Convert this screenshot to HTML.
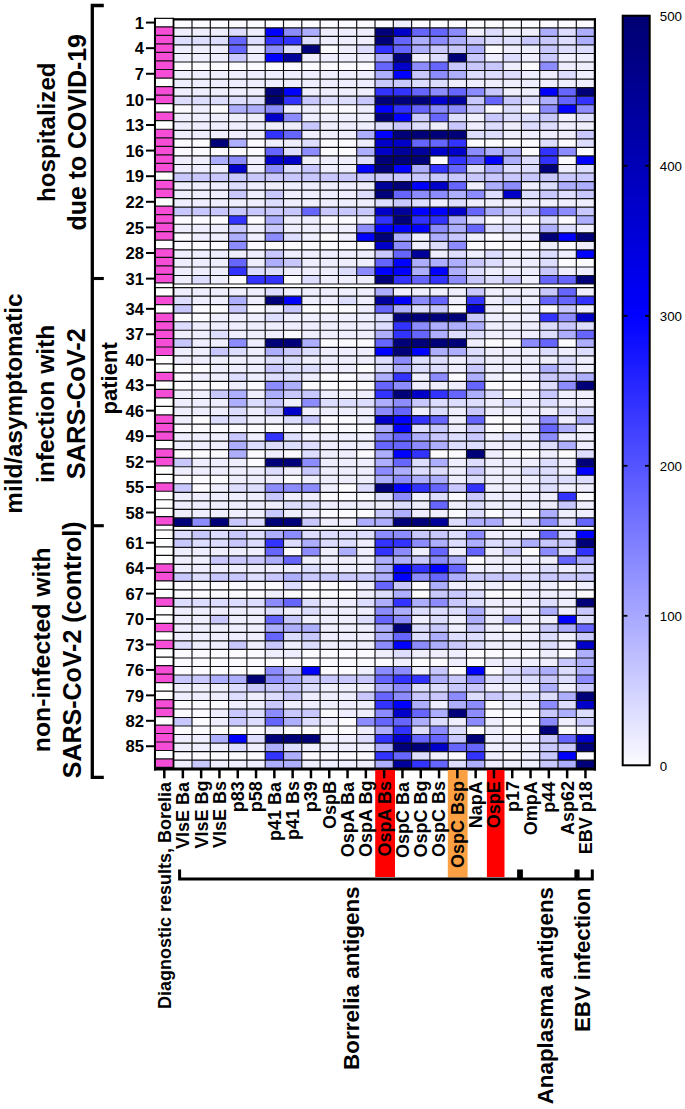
<!DOCTYPE html>
<html><head><meta charset="utf-8"><style>
html,body{margin:0;padding:0;background:#fff;}
body{width:685px;height:1109px;overflow:hidden;}
svg{display:block;font-family:"Liberation Sans",sans-serif;}
</style></head><body>
<svg width="685" height="1109" viewBox="0 0 685 1109">
<rect width="685" height="1109" fill="#fff"/>
<path fill="#fbfbff" d="M173.70 19.30h18.35v8.59h-18.35zM192.00 19.30h18.35v8.59h-18.35zM210.30 19.30h18.35v8.59h-18.35zM228.60 19.30h18.35v8.59h-18.35zM246.90 19.30h18.35v8.59h-18.35zM265.20 19.30h18.35v8.59h-18.35zM283.50 19.30h18.35v8.59h-18.35zM301.80 19.30h18.35v8.59h-18.35zM320.10 19.30h18.35v8.59h-18.35zM338.40 19.30h18.35v8.59h-18.35zM356.70 19.30h18.35v8.59h-18.35zM375.00 19.30h18.35v8.59h-18.35zM411.60 19.30h18.35v8.59h-18.35zM429.90 19.30h18.35v8.59h-18.35zM448.20 19.30h18.35v8.59h-18.35zM466.50 19.30h18.35v8.59h-18.35zM484.80 19.30h18.35v8.59h-18.35zM503.10 19.30h18.35v8.59h-18.35zM521.40 19.30h18.35v8.59h-18.35zM539.70 19.30h18.35v8.59h-18.35zM558.00 19.30h18.35v8.59h-18.35zM576.30 19.30h18.35v8.59h-18.35zM320.10 44.92h18.35v8.59h-18.35zM484.80 44.92h18.35v8.59h-18.35zM173.70 62.00h18.35v8.59h-18.35zM192.00 62.00h18.35v8.59h-18.35zM210.30 62.00h18.35v8.59h-18.35zM228.60 62.00h18.35v8.59h-18.35zM246.90 62.00h18.35v8.59h-18.35zM265.20 62.00h18.35v8.59h-18.35zM283.50 62.00h18.35v8.59h-18.35zM301.80 62.00h18.35v8.59h-18.35zM320.10 62.00h18.35v8.59h-18.35zM338.40 62.00h18.35v8.59h-18.35zM356.70 62.00h18.35v8.59h-18.35zM521.40 62.00h18.35v8.59h-18.35zM173.70 104.70h18.35v8.59h-18.35zM210.30 104.70h18.35v8.59h-18.35zM320.10 104.70h18.35v8.59h-18.35zM338.40 104.70h18.35v8.59h-18.35zM484.80 104.70h18.35v8.59h-18.35zM521.40 104.70h18.35v8.59h-18.35zM173.70 138.86h18.35v8.59h-18.35zM192.00 138.86h18.35v8.59h-18.35zM246.90 138.86h18.35v8.59h-18.35zM320.10 138.86h18.35v8.59h-18.35zM338.40 138.86h18.35v8.59h-18.35zM466.50 138.86h18.35v8.59h-18.35zM484.80 138.86h18.35v8.59h-18.35zM503.10 138.86h18.35v8.59h-18.35zM521.40 138.86h18.35v8.59h-18.35zM558.00 138.86h18.35v8.59h-18.35zM173.70 147.40h18.35v8.59h-18.35zM192.00 147.40h18.35v8.59h-18.35zM210.30 147.40h18.35v8.59h-18.35zM228.60 147.40h18.35v8.59h-18.35zM246.90 147.40h18.35v8.59h-18.35zM320.10 147.40h18.35v8.59h-18.35zM338.40 147.40h18.35v8.59h-18.35zM521.40 147.40h18.35v8.59h-18.35zM576.30 147.40h18.35v8.59h-18.35zM429.90 155.94h18.35v8.59h-18.35zM558.00 155.94h18.35v8.59h-18.35zM173.70 215.72h18.35v8.59h-18.35zM192.00 215.72h18.35v8.59h-18.35zM210.30 215.72h18.35v8.59h-18.35zM246.90 215.72h18.35v8.59h-18.35zM320.10 215.72h18.35v8.59h-18.35zM338.40 215.72h18.35v8.59h-18.35zM484.80 215.72h18.35v8.59h-18.35zM521.40 215.72h18.35v8.59h-18.35zM558.00 215.72h18.35v8.59h-18.35zM173.70 232.80h18.35v8.59h-18.35zM320.10 232.80h18.35v8.59h-18.35zM484.80 232.80h18.35v8.59h-18.35zM173.70 241.34h18.35v8.59h-18.35zM192.00 241.34h18.35v8.59h-18.35zM210.30 241.34h18.35v8.59h-18.35zM246.90 241.34h18.35v8.59h-18.35zM265.20 241.34h18.35v8.59h-18.35zM283.50 241.34h18.35v8.59h-18.35zM301.80 241.34h18.35v8.59h-18.35zM320.10 241.34h18.35v8.59h-18.35zM338.40 241.34h18.35v8.59h-18.35zM356.70 241.34h18.35v8.59h-18.35zM466.50 241.34h18.35v8.59h-18.35zM484.80 241.34h18.35v8.59h-18.35zM503.10 241.34h18.35v8.59h-18.35zM521.40 241.34h18.35v8.59h-18.35zM558.00 241.34h18.35v8.59h-18.35zM558.00 258.42h18.35v8.59h-18.35zM576.30 258.42h18.35v8.59h-18.35zM228.60 275.50h18.35v8.59h-18.35zM283.50 275.50h18.35v8.59h-18.35zM192.00 304.66h18.35v8.58h-18.35zM210.30 304.66h18.35v8.58h-18.35zM246.90 304.66h18.35v8.58h-18.35zM301.80 304.66h18.35v8.58h-18.35zM320.10 304.66h18.35v8.58h-18.35zM338.40 304.66h18.35v8.58h-18.35zM448.20 304.66h18.35v8.58h-18.35zM503.10 304.66h18.35v8.58h-18.35zM539.70 304.66h18.35v8.58h-18.35zM173.70 313.19h18.35v8.58h-18.35zM192.00 313.19h18.35v8.58h-18.35zM283.50 330.25h18.35v8.58h-18.35zM320.10 338.78h18.35v8.58h-18.35zM338.40 338.78h18.35v8.58h-18.35zM356.70 338.78h18.35v8.58h-18.35zM484.80 338.78h18.35v8.58h-18.35zM503.10 338.78h18.35v8.58h-18.35zM558.00 338.78h18.35v8.58h-18.35zM173.70 364.37h18.35v8.58h-18.35zM192.00 364.37h18.35v8.58h-18.35zM356.70 364.37h18.35v8.58h-18.35zM173.70 372.90h18.35v8.58h-18.35zM320.10 372.90h18.35v8.58h-18.35zM338.40 372.90h18.35v8.58h-18.35zM448.20 372.90h18.35v8.58h-18.35zM503.10 372.90h18.35v8.58h-18.35zM173.70 381.43h18.35v8.58h-18.35zM192.00 381.43h18.35v8.58h-18.35zM210.30 381.43h18.35v8.58h-18.35zM246.90 381.43h18.35v8.58h-18.35zM301.80 381.43h18.35v8.58h-18.35zM320.10 381.43h18.35v8.58h-18.35zM338.40 381.43h18.35v8.58h-18.35zM356.70 381.43h18.35v8.58h-18.35zM484.80 381.43h18.35v8.58h-18.35zM503.10 381.43h18.35v8.58h-18.35zM521.40 381.43h18.35v8.58h-18.35zM503.10 389.96h18.35v8.58h-18.35zM192.00 415.55h18.35v8.58h-18.35zM320.10 415.55h18.35v8.58h-18.35zM338.40 415.55h18.35v8.58h-18.35zM484.80 415.55h18.35v8.58h-18.35zM503.10 415.55h18.35v8.58h-18.35zM173.70 424.08h18.35v8.58h-18.35zM192.00 424.08h18.35v8.58h-18.35zM210.30 424.08h18.35v8.58h-18.35zM228.60 424.08h18.35v8.58h-18.35zM246.90 424.08h18.35v8.58h-18.35zM265.20 424.08h18.35v8.58h-18.35zM283.50 424.08h18.35v8.58h-18.35zM301.80 424.08h18.35v8.58h-18.35zM320.10 424.08h18.35v8.58h-18.35zM338.40 424.08h18.35v8.58h-18.35zM356.70 424.08h18.35v8.58h-18.35zM484.80 424.08h18.35v8.58h-18.35zM503.10 424.08h18.35v8.58h-18.35zM173.70 449.67h18.35v8.58h-18.35zM192.00 449.67h18.35v8.58h-18.35zM210.30 449.67h18.35v8.58h-18.35zM246.90 449.67h18.35v8.58h-18.35zM283.50 449.67h18.35v8.58h-18.35zM356.70 449.67h18.35v8.58h-18.35zM429.90 449.67h18.35v8.58h-18.35zM448.20 449.67h18.35v8.58h-18.35zM503.10 449.67h18.35v8.58h-18.35zM521.40 449.67h18.35v8.58h-18.35zM558.00 449.67h18.35v8.58h-18.35zM246.90 458.20h18.35v8.58h-18.35zM173.70 475.26h18.35v8.58h-18.35zM192.00 475.26h18.35v8.58h-18.35zM210.30 475.26h18.35v8.58h-18.35zM283.50 475.26h18.35v8.58h-18.35zM192.00 483.79h18.35v8.58h-18.35zM338.40 483.79h18.35v8.58h-18.35zM320.10 492.32h18.35v8.58h-18.35zM338.40 492.32h18.35v8.58h-18.35zM356.70 492.32h18.35v8.58h-18.35zM448.20 492.32h18.35v8.58h-18.35zM576.30 492.32h18.35v8.58h-18.35zM320.10 509.38h18.35v8.58h-18.35zM338.40 509.38h18.35v8.58h-18.35zM356.70 509.38h18.35v8.58h-18.35zM448.20 509.38h18.35v8.58h-18.35zM484.80 509.38h18.35v8.58h-18.35zM521.40 509.38h18.35v8.58h-18.35zM283.50 547.32h18.35v8.56h-18.35zM521.40 547.32h18.35v8.56h-18.35zM466.50 555.83h18.35v8.56h-18.35zM173.70 581.36h18.35v8.56h-18.35zM192.00 581.36h18.35v8.56h-18.35zM210.30 581.36h18.35v8.56h-18.35zM228.60 581.36h18.35v8.56h-18.35zM246.90 581.36h18.35v8.56h-18.35zM265.20 581.36h18.35v8.56h-18.35zM301.80 581.36h18.35v8.56h-18.35zM320.10 581.36h18.35v8.56h-18.35zM338.40 581.36h18.35v8.56h-18.35zM411.60 581.36h18.35v8.56h-18.35zM503.10 581.36h18.35v8.56h-18.35zM558.00 581.36h18.35v8.56h-18.35zM173.70 589.87h18.35v8.56h-18.35zM192.00 589.87h18.35v8.56h-18.35zM210.30 589.87h18.35v8.56h-18.35zM228.60 589.87h18.35v8.56h-18.35zM246.90 589.87h18.35v8.56h-18.35zM283.50 589.87h18.35v8.56h-18.35zM301.80 589.87h18.35v8.56h-18.35zM320.10 589.87h18.35v8.56h-18.35zM338.40 589.87h18.35v8.56h-18.35zM411.60 589.87h18.35v8.56h-18.35zM484.80 589.87h18.35v8.56h-18.35zM503.10 589.87h18.35v8.56h-18.35zM576.30 589.87h18.35v8.56h-18.35zM503.10 623.91h18.35v8.56h-18.35zM173.70 649.44h18.35v8.56h-18.35zM192.00 649.44h18.35v8.56h-18.35zM210.30 649.44h18.35v8.56h-18.35zM228.60 649.44h18.35v8.56h-18.35zM246.90 649.44h18.35v8.56h-18.35zM301.80 649.44h18.35v8.56h-18.35zM320.10 649.44h18.35v8.56h-18.35zM338.40 649.44h18.35v8.56h-18.35zM356.70 649.44h18.35v8.56h-18.35zM466.50 649.44h18.35v8.56h-18.35zM484.80 649.44h18.35v8.56h-18.35zM503.10 649.44h18.35v8.56h-18.35zM521.40 649.44h18.35v8.56h-18.35zM558.00 649.44h18.35v8.56h-18.35zM173.70 657.95h18.35v8.56h-18.35zM192.00 657.95h18.35v8.56h-18.35zM210.30 657.95h18.35v8.56h-18.35zM228.60 657.95h18.35v8.56h-18.35zM246.90 657.95h18.35v8.56h-18.35zM265.20 657.95h18.35v8.56h-18.35zM283.50 657.95h18.35v8.56h-18.35zM301.80 657.95h18.35v8.56h-18.35zM320.10 657.95h18.35v8.56h-18.35zM338.40 657.95h18.35v8.56h-18.35zM356.70 657.95h18.35v8.56h-18.35zM375.00 657.95h18.35v8.56h-18.35zM411.60 657.95h18.35v8.56h-18.35zM429.90 657.95h18.35v8.56h-18.35zM466.50 657.95h18.35v8.56h-18.35zM173.70 666.46h18.35v8.56h-18.35zM192.00 666.46h18.35v8.56h-18.35zM210.30 666.46h18.35v8.56h-18.35zM228.60 666.46h18.35v8.56h-18.35zM246.90 666.46h18.35v8.56h-18.35zM320.10 666.46h18.35v8.56h-18.35zM338.40 666.46h18.35v8.56h-18.35zM448.20 666.46h18.35v8.56h-18.35zM484.80 666.46h18.35v8.56h-18.35zM173.70 700.50h18.35v8.56h-18.35zM192.00 700.50h18.35v8.56h-18.35zM210.30 700.50h18.35v8.56h-18.35zM484.80 700.50h18.35v8.56h-18.35zM173.70 709.01h18.35v8.56h-18.35zM192.00 709.01h18.35v8.56h-18.35zM320.10 709.01h18.35v8.56h-18.35zM484.80 709.01h18.35v8.56h-18.35zM503.10 709.01h18.35v8.56h-18.35zM521.40 709.01h18.35v8.56h-18.35zM192.00 717.52h18.35v8.56h-18.35zM338.40 717.52h18.35v8.56h-18.35zM503.10 717.52h18.35v8.56h-18.35zM521.40 717.52h18.35v8.56h-18.35zM173.70 726.03h18.35v8.56h-18.35zM192.00 726.03h18.35v8.56h-18.35zM210.30 726.03h18.35v8.56h-18.35zM228.60 726.03h18.35v8.56h-18.35zM246.90 726.03h18.35v8.56h-18.35zM283.50 726.03h18.35v8.56h-18.35zM301.80 726.03h18.35v8.56h-18.35zM320.10 726.03h18.35v8.56h-18.35zM338.40 726.03h18.35v8.56h-18.35zM466.50 726.03h18.35v8.56h-18.35zM503.10 726.03h18.35v8.56h-18.35zM521.40 726.03h18.35v8.56h-18.35zM558.00 726.03h18.35v8.56h-18.35zM173.70 751.56h18.35v8.56h-18.35zM192.00 751.56h18.35v8.56h-18.35zM210.30 751.56h18.35v8.56h-18.35zM228.60 751.56h18.35v8.56h-18.35zM246.90 751.56h18.35v8.56h-18.35zM301.80 751.56h18.35v8.56h-18.35zM320.10 751.56h18.35v8.56h-18.35zM338.40 751.56h18.35v8.56h-18.35zM356.70 751.56h18.35v8.56h-18.35zM448.20 751.56h18.35v8.56h-18.35zM503.10 751.56h18.35v8.56h-18.35zM576.30 751.56h18.35v8.56h-18.35z"/>
<path fill="#eeeeff" d="M393.30 19.30h18.35v8.59h-18.35zM173.70 27.84h18.35v8.59h-18.35zM192.00 27.84h18.35v8.59h-18.35zM210.30 27.84h18.35v8.59h-18.35zM246.90 27.84h18.35v8.59h-18.35zM320.10 27.84h18.35v8.59h-18.35zM338.40 27.84h18.35v8.59h-18.35zM356.70 27.84h18.35v8.59h-18.35zM466.50 27.84h18.35v8.59h-18.35zM503.10 27.84h18.35v8.59h-18.35zM521.40 27.84h18.35v8.59h-18.35zM320.10 36.38h18.35v8.59h-18.35zM338.40 36.38h18.35v8.59h-18.35zM356.70 36.38h18.35v8.59h-18.35zM173.70 44.92h18.35v8.59h-18.35zM192.00 44.92h18.35v8.59h-18.35zM210.30 44.92h18.35v8.59h-18.35zM246.90 44.92h18.35v8.59h-18.35zM338.40 44.92h18.35v8.59h-18.35zM503.10 44.92h18.35v8.59h-18.35zM521.40 44.92h18.35v8.59h-18.35zM173.70 53.46h18.35v8.59h-18.35zM192.00 53.46h18.35v8.59h-18.35zM210.30 53.46h18.35v8.59h-18.35zM246.90 53.46h18.35v8.59h-18.35zM301.80 53.46h18.35v8.59h-18.35zM320.10 53.46h18.35v8.59h-18.35zM338.40 53.46h18.35v8.59h-18.35zM356.70 53.46h18.35v8.59h-18.35zM411.60 53.46h18.35v8.59h-18.35zM484.80 53.46h18.35v8.59h-18.35zM521.40 53.46h18.35v8.59h-18.35zM558.00 53.46h18.35v8.59h-18.35zM576.30 53.46h18.35v8.59h-18.35zM503.10 62.00h18.35v8.59h-18.35zM558.00 62.00h18.35v8.59h-18.35zM576.30 62.00h18.35v8.59h-18.35zM173.70 70.54h18.35v8.59h-18.35zM192.00 70.54h18.35v8.59h-18.35zM210.30 70.54h18.35v8.59h-18.35zM228.60 70.54h18.35v8.59h-18.35zM246.90 70.54h18.35v8.59h-18.35zM265.20 70.54h18.35v8.59h-18.35zM283.50 70.54h18.35v8.59h-18.35zM301.80 70.54h18.35v8.59h-18.35zM320.10 70.54h18.35v8.59h-18.35zM338.40 70.54h18.35v8.59h-18.35zM356.70 70.54h18.35v8.59h-18.35zM521.40 70.54h18.35v8.59h-18.35zM539.70 70.54h18.35v8.59h-18.35zM576.30 70.54h18.35v8.59h-18.35zM173.70 79.08h18.35v8.59h-18.35zM192.00 79.08h18.35v8.59h-18.35zM210.30 79.08h18.35v8.59h-18.35zM228.60 79.08h18.35v8.59h-18.35zM246.90 79.08h18.35v8.59h-18.35zM265.20 79.08h18.35v8.59h-18.35zM283.50 79.08h18.35v8.59h-18.35zM301.80 79.08h18.35v8.59h-18.35zM320.10 79.08h18.35v8.59h-18.35zM338.40 79.08h18.35v8.59h-18.35zM356.70 79.08h18.35v8.59h-18.35zM448.20 79.08h18.35v8.59h-18.35zM466.50 79.08h18.35v8.59h-18.35zM484.80 79.08h18.35v8.59h-18.35zM503.10 79.08h18.35v8.59h-18.35zM521.40 79.08h18.35v8.59h-18.35zM539.70 79.08h18.35v8.59h-18.35zM558.00 79.08h18.35v8.59h-18.35zM576.30 79.08h18.35v8.59h-18.35zM173.70 87.62h18.35v8.59h-18.35zM192.00 87.62h18.35v8.59h-18.35zM210.30 87.62h18.35v8.59h-18.35zM228.60 87.62h18.35v8.59h-18.35zM246.90 87.62h18.35v8.59h-18.35zM301.80 87.62h18.35v8.59h-18.35zM320.10 87.62h18.35v8.59h-18.35zM338.40 87.62h18.35v8.59h-18.35zM356.70 87.62h18.35v8.59h-18.35zM503.10 87.62h18.35v8.59h-18.35zM521.40 87.62h18.35v8.59h-18.35zM192.00 104.70h18.35v8.59h-18.35zM283.50 104.70h18.35v8.59h-18.35zM301.80 104.70h18.35v8.59h-18.35zM356.70 104.70h18.35v8.59h-18.35zM173.70 113.24h18.35v8.59h-18.35zM192.00 113.24h18.35v8.59h-18.35zM210.30 113.24h18.35v8.59h-18.35zM228.60 113.24h18.35v8.59h-18.35zM246.90 113.24h18.35v8.59h-18.35zM301.80 113.24h18.35v8.59h-18.35zM320.10 113.24h18.35v8.59h-18.35zM338.40 113.24h18.35v8.59h-18.35zM356.70 113.24h18.35v8.59h-18.35zM466.50 113.24h18.35v8.59h-18.35zM558.00 113.24h18.35v8.59h-18.35zM173.70 121.78h18.35v8.59h-18.35zM192.00 121.78h18.35v8.59h-18.35zM210.30 121.78h18.35v8.59h-18.35zM228.60 121.78h18.35v8.59h-18.35zM246.90 121.78h18.35v8.59h-18.35zM265.20 121.78h18.35v8.59h-18.35zM283.50 121.78h18.35v8.59h-18.35zM320.10 121.78h18.35v8.59h-18.35zM338.40 121.78h18.35v8.59h-18.35zM356.70 121.78h18.35v8.59h-18.35zM429.90 121.78h18.35v8.59h-18.35zM466.50 121.78h18.35v8.59h-18.35zM503.10 121.78h18.35v8.59h-18.35zM558.00 121.78h18.35v8.59h-18.35zM576.30 121.78h18.35v8.59h-18.35zM173.70 130.32h18.35v8.59h-18.35zM192.00 130.32h18.35v8.59h-18.35zM210.30 130.32h18.35v8.59h-18.35zM228.60 130.32h18.35v8.59h-18.35zM246.90 130.32h18.35v8.59h-18.35zM301.80 130.32h18.35v8.59h-18.35zM320.10 130.32h18.35v8.59h-18.35zM338.40 130.32h18.35v8.59h-18.35zM503.10 130.32h18.35v8.59h-18.35zM521.40 130.32h18.35v8.59h-18.35zM539.70 130.32h18.35v8.59h-18.35zM558.00 130.32h18.35v8.59h-18.35zM265.20 138.86h18.35v8.59h-18.35zM283.50 138.86h18.35v8.59h-18.35zM356.70 138.86h18.35v8.59h-18.35zM173.70 155.94h18.35v8.59h-18.35zM192.00 155.94h18.35v8.59h-18.35zM246.90 155.94h18.35v8.59h-18.35zM301.80 155.94h18.35v8.59h-18.35zM320.10 155.94h18.35v8.59h-18.35zM338.40 155.94h18.35v8.59h-18.35zM173.70 164.48h18.35v8.59h-18.35zM192.00 164.48h18.35v8.59h-18.35zM210.30 164.48h18.35v8.59h-18.35zM246.90 164.48h18.35v8.59h-18.35zM320.10 164.48h18.35v8.59h-18.35zM338.40 164.48h18.35v8.59h-18.35zM558.00 164.48h18.35v8.59h-18.35zM173.70 181.56h18.35v8.59h-18.35zM192.00 181.56h18.35v8.59h-18.35zM210.30 181.56h18.35v8.59h-18.35zM246.90 181.56h18.35v8.59h-18.35zM265.20 181.56h18.35v8.59h-18.35zM283.50 181.56h18.35v8.59h-18.35zM301.80 181.56h18.35v8.59h-18.35zM320.10 181.56h18.35v8.59h-18.35zM338.40 181.56h18.35v8.59h-18.35zM356.70 181.56h18.35v8.59h-18.35zM466.50 181.56h18.35v8.59h-18.35zM521.40 181.56h18.35v8.59h-18.35zM173.70 190.10h18.35v8.59h-18.35zM192.00 190.10h18.35v8.59h-18.35zM210.30 190.10h18.35v8.59h-18.35zM246.90 190.10h18.35v8.59h-18.35zM283.50 190.10h18.35v8.59h-18.35zM301.80 190.10h18.35v8.59h-18.35zM320.10 190.10h18.35v8.59h-18.35zM338.40 190.10h18.35v8.59h-18.35zM173.70 198.64h18.35v8.59h-18.35zM192.00 198.64h18.35v8.59h-18.35zM210.30 198.64h18.35v8.59h-18.35zM228.60 198.64h18.35v8.59h-18.35zM246.90 198.64h18.35v8.59h-18.35zM283.50 198.64h18.35v8.59h-18.35zM301.80 198.64h18.35v8.59h-18.35zM320.10 198.64h18.35v8.59h-18.35zM338.40 198.64h18.35v8.59h-18.35zM356.70 198.64h18.35v8.59h-18.35zM429.90 198.64h18.35v8.59h-18.35zM466.50 198.64h18.35v8.59h-18.35zM484.80 198.64h18.35v8.59h-18.35zM503.10 198.64h18.35v8.59h-18.35zM521.40 198.64h18.35v8.59h-18.35zM539.70 198.64h18.35v8.59h-18.35zM558.00 198.64h18.35v8.59h-18.35zM576.30 198.64h18.35v8.59h-18.35zM283.50 215.72h18.35v8.59h-18.35zM301.80 215.72h18.35v8.59h-18.35zM356.70 215.72h18.35v8.59h-18.35zM503.10 215.72h18.35v8.59h-18.35zM173.70 224.26h18.35v8.59h-18.35zM192.00 224.26h18.35v8.59h-18.35zM210.30 224.26h18.35v8.59h-18.35zM246.90 224.26h18.35v8.59h-18.35zM283.50 224.26h18.35v8.59h-18.35zM301.80 224.26h18.35v8.59h-18.35zM320.10 224.26h18.35v8.59h-18.35zM338.40 224.26h18.35v8.59h-18.35zM521.40 224.26h18.35v8.59h-18.35zM576.30 224.26h18.35v8.59h-18.35zM192.00 232.80h18.35v8.59h-18.35zM210.30 232.80h18.35v8.59h-18.35zM246.90 232.80h18.35v8.59h-18.35zM301.80 232.80h18.35v8.59h-18.35zM338.40 232.80h18.35v8.59h-18.35zM411.60 232.80h18.35v8.59h-18.35zM466.50 232.80h18.35v8.59h-18.35zM503.10 232.80h18.35v8.59h-18.35zM521.40 232.80h18.35v8.59h-18.35zM411.60 241.34h18.35v8.59h-18.35zM539.70 241.34h18.35v8.59h-18.35zM576.30 241.34h18.35v8.59h-18.35zM173.70 249.88h18.35v8.59h-18.35zM192.00 249.88h18.35v8.59h-18.35zM210.30 249.88h18.35v8.59h-18.35zM228.60 249.88h18.35v8.59h-18.35zM246.90 249.88h18.35v8.59h-18.35zM283.50 249.88h18.35v8.59h-18.35zM301.80 249.88h18.35v8.59h-18.35zM320.10 249.88h18.35v8.59h-18.35zM338.40 249.88h18.35v8.59h-18.35zM356.70 249.88h18.35v8.59h-18.35zM429.90 249.88h18.35v8.59h-18.35zM466.50 249.88h18.35v8.59h-18.35zM503.10 249.88h18.35v8.59h-18.35zM521.40 249.88h18.35v8.59h-18.35zM558.00 249.88h18.35v8.59h-18.35zM173.70 258.42h18.35v8.59h-18.35zM192.00 258.42h18.35v8.59h-18.35zM210.30 258.42h18.35v8.59h-18.35zM246.90 258.42h18.35v8.59h-18.35zM301.80 258.42h18.35v8.59h-18.35zM320.10 258.42h18.35v8.59h-18.35zM338.40 258.42h18.35v8.59h-18.35zM356.70 258.42h18.35v8.59h-18.35zM503.10 258.42h18.35v8.59h-18.35zM521.40 258.42h18.35v8.59h-18.35zM173.70 266.96h18.35v8.59h-18.35zM192.00 266.96h18.35v8.59h-18.35zM210.30 266.96h18.35v8.59h-18.35zM283.50 266.96h18.35v8.59h-18.35zM301.80 266.96h18.35v8.59h-18.35zM320.10 266.96h18.35v8.59h-18.35zM484.80 266.96h18.35v8.59h-18.35zM503.10 266.96h18.35v8.59h-18.35zM521.40 266.96h18.35v8.59h-18.35zM558.00 266.96h18.35v8.59h-18.35zM576.30 266.96h18.35v8.59h-18.35zM173.70 275.50h18.35v8.59h-18.35zM210.30 275.50h18.35v8.59h-18.35zM320.10 275.50h18.35v8.59h-18.35zM338.40 275.50h18.35v8.59h-18.35zM356.70 275.50h18.35v8.59h-18.35zM521.40 275.50h18.35v8.59h-18.35zM173.70 287.60h18.35v8.58h-18.35zM192.00 287.60h18.35v8.58h-18.35zM210.30 287.60h18.35v8.58h-18.35zM228.60 287.60h18.35v8.58h-18.35zM246.90 287.60h18.35v8.58h-18.35zM283.50 287.60h18.35v8.58h-18.35zM301.80 287.60h18.35v8.58h-18.35zM320.10 287.60h18.35v8.58h-18.35zM338.40 287.60h18.35v8.58h-18.35zM356.70 287.60h18.35v8.58h-18.35zM393.30 287.60h18.35v8.58h-18.35zM411.60 287.60h18.35v8.58h-18.35zM429.90 287.60h18.35v8.58h-18.35zM448.20 287.60h18.35v8.58h-18.35zM484.80 287.60h18.35v8.58h-18.35zM503.10 287.60h18.35v8.58h-18.35zM521.40 287.60h18.35v8.58h-18.35zM576.30 287.60h18.35v8.58h-18.35zM192.00 296.13h18.35v8.58h-18.35zM210.30 296.13h18.35v8.58h-18.35zM246.90 296.13h18.35v8.58h-18.35zM301.80 296.13h18.35v8.58h-18.35zM320.10 296.13h18.35v8.58h-18.35zM356.70 296.13h18.35v8.58h-18.35zM448.20 296.13h18.35v8.58h-18.35zM484.80 296.13h18.35v8.58h-18.35zM521.40 296.13h18.35v8.58h-18.35zM265.20 304.66h18.35v8.58h-18.35zM356.70 304.66h18.35v8.58h-18.35zM484.80 304.66h18.35v8.58h-18.35zM521.40 304.66h18.35v8.58h-18.35zM576.30 304.66h18.35v8.58h-18.35zM210.30 313.19h18.35v8.58h-18.35zM228.60 313.19h18.35v8.58h-18.35zM246.90 313.19h18.35v8.58h-18.35zM283.50 313.19h18.35v8.58h-18.35zM301.80 313.19h18.35v8.58h-18.35zM320.10 313.19h18.35v8.58h-18.35zM338.40 313.19h18.35v8.58h-18.35zM356.70 313.19h18.35v8.58h-18.35zM484.80 313.19h18.35v8.58h-18.35zM503.10 313.19h18.35v8.58h-18.35zM521.40 313.19h18.35v8.58h-18.35zM192.00 321.72h18.35v8.58h-18.35zM210.30 321.72h18.35v8.58h-18.35zM228.60 321.72h18.35v8.58h-18.35zM246.90 321.72h18.35v8.58h-18.35zM265.20 321.72h18.35v8.58h-18.35zM283.50 321.72h18.35v8.58h-18.35zM301.80 321.72h18.35v8.58h-18.35zM320.10 321.72h18.35v8.58h-18.35zM338.40 321.72h18.35v8.58h-18.35zM356.70 321.72h18.35v8.58h-18.35zM484.80 321.72h18.35v8.58h-18.35zM503.10 321.72h18.35v8.58h-18.35zM521.40 321.72h18.35v8.58h-18.35zM173.70 330.25h18.35v8.58h-18.35zM192.00 330.25h18.35v8.58h-18.35zM228.60 330.25h18.35v8.58h-18.35zM246.90 330.25h18.35v8.58h-18.35zM265.20 330.25h18.35v8.58h-18.35zM301.80 330.25h18.35v8.58h-18.35zM320.10 330.25h18.35v8.58h-18.35zM338.40 330.25h18.35v8.58h-18.35zM356.70 330.25h18.35v8.58h-18.35zM484.80 330.25h18.35v8.58h-18.35zM503.10 330.25h18.35v8.58h-18.35zM521.40 330.25h18.35v8.58h-18.35zM192.00 338.78h18.35v8.58h-18.35zM210.30 338.78h18.35v8.58h-18.35zM246.90 338.78h18.35v8.58h-18.35zM466.50 338.78h18.35v8.58h-18.35zM173.70 347.31h18.35v8.58h-18.35zM192.00 347.31h18.35v8.58h-18.35zM246.90 347.31h18.35v8.58h-18.35zM320.10 347.31h18.35v8.58h-18.35zM338.40 347.31h18.35v8.58h-18.35zM356.70 347.31h18.35v8.58h-18.35zM484.80 347.31h18.35v8.58h-18.35zM503.10 347.31h18.35v8.58h-18.35zM521.40 347.31h18.35v8.58h-18.35zM558.00 347.31h18.35v8.58h-18.35zM173.70 355.84h18.35v8.58h-18.35zM192.00 355.84h18.35v8.58h-18.35zM210.30 355.84h18.35v8.58h-18.35zM228.60 355.84h18.35v8.58h-18.35zM246.90 355.84h18.35v8.58h-18.35zM301.80 355.84h18.35v8.58h-18.35zM320.10 355.84h18.35v8.58h-18.35zM338.40 355.84h18.35v8.58h-18.35zM356.70 355.84h18.35v8.58h-18.35zM448.20 355.84h18.35v8.58h-18.35zM484.80 355.84h18.35v8.58h-18.35zM503.10 355.84h18.35v8.58h-18.35zM521.40 355.84h18.35v8.58h-18.35zM539.70 355.84h18.35v8.58h-18.35zM576.30 355.84h18.35v8.58h-18.35zM210.30 364.37h18.35v8.58h-18.35zM228.60 364.37h18.35v8.58h-18.35zM246.90 364.37h18.35v8.58h-18.35zM320.10 364.37h18.35v8.58h-18.35zM338.40 364.37h18.35v8.58h-18.35zM448.20 364.37h18.35v8.58h-18.35zM484.80 364.37h18.35v8.58h-18.35zM503.10 364.37h18.35v8.58h-18.35zM521.40 364.37h18.35v8.58h-18.35zM576.30 364.37h18.35v8.58h-18.35zM192.00 372.90h18.35v8.58h-18.35zM210.30 372.90h18.35v8.58h-18.35zM246.90 372.90h18.35v8.58h-18.35zM301.80 372.90h18.35v8.58h-18.35zM356.70 372.90h18.35v8.58h-18.35zM411.60 372.90h18.35v8.58h-18.35zM484.80 372.90h18.35v8.58h-18.35zM521.40 372.90h18.35v8.58h-18.35zM228.60 381.43h18.35v8.58h-18.35zM411.60 381.43h18.35v8.58h-18.35zM429.90 381.43h18.35v8.58h-18.35zM448.20 381.43h18.35v8.58h-18.35zM173.70 389.96h18.35v8.58h-18.35zM192.00 389.96h18.35v8.58h-18.35zM246.90 389.96h18.35v8.58h-18.35zM320.10 389.96h18.35v8.58h-18.35zM338.40 389.96h18.35v8.58h-18.35zM356.70 389.96h18.35v8.58h-18.35zM521.40 389.96h18.35v8.58h-18.35zM558.00 389.96h18.35v8.58h-18.35zM576.30 389.96h18.35v8.58h-18.35zM173.70 398.49h18.35v8.58h-18.35zM192.00 398.49h18.35v8.58h-18.35zM210.30 398.49h18.35v8.58h-18.35zM283.50 398.49h18.35v8.58h-18.35zM484.80 398.49h18.35v8.58h-18.35zM521.40 398.49h18.35v8.58h-18.35zM558.00 398.49h18.35v8.58h-18.35zM576.30 398.49h18.35v8.58h-18.35zM173.70 407.02h18.35v8.58h-18.35zM192.00 407.02h18.35v8.58h-18.35zM210.30 407.02h18.35v8.58h-18.35zM246.90 407.02h18.35v8.58h-18.35zM301.80 407.02h18.35v8.58h-18.35zM320.10 407.02h18.35v8.58h-18.35zM338.40 407.02h18.35v8.58h-18.35zM356.70 407.02h18.35v8.58h-18.35zM411.60 407.02h18.35v8.58h-18.35zM448.20 407.02h18.35v8.58h-18.35zM484.80 407.02h18.35v8.58h-18.35zM503.10 407.02h18.35v8.58h-18.35zM521.40 407.02h18.35v8.58h-18.35zM539.70 407.02h18.35v8.58h-18.35zM173.70 415.55h18.35v8.58h-18.35zM246.90 415.55h18.35v8.58h-18.35zM265.20 415.55h18.35v8.58h-18.35zM356.70 415.55h18.35v8.58h-18.35zM448.20 415.55h18.35v8.58h-18.35zM521.40 415.55h18.35v8.58h-18.35zM558.00 415.55h18.35v8.58h-18.35zM448.20 424.08h18.35v8.58h-18.35zM521.40 424.08h18.35v8.58h-18.35zM576.30 424.08h18.35v8.58h-18.35zM173.70 432.61h18.35v8.58h-18.35zM192.00 432.61h18.35v8.58h-18.35zM210.30 432.61h18.35v8.58h-18.35zM246.90 432.61h18.35v8.58h-18.35zM301.80 432.61h18.35v8.58h-18.35zM320.10 432.61h18.35v8.58h-18.35zM338.40 432.61h18.35v8.58h-18.35zM356.70 432.61h18.35v8.58h-18.35zM484.80 432.61h18.35v8.58h-18.35zM521.40 432.61h18.35v8.58h-18.35zM558.00 432.61h18.35v8.58h-18.35zM576.30 432.61h18.35v8.58h-18.35zM173.70 441.14h18.35v8.58h-18.35zM192.00 441.14h18.35v8.58h-18.35zM210.30 441.14h18.35v8.58h-18.35zM320.10 441.14h18.35v8.58h-18.35zM338.40 441.14h18.35v8.58h-18.35zM356.70 441.14h18.35v8.58h-18.35zM484.80 441.14h18.35v8.58h-18.35zM503.10 441.14h18.35v8.58h-18.35zM521.40 441.14h18.35v8.58h-18.35zM576.30 441.14h18.35v8.58h-18.35zM265.20 449.67h18.35v8.58h-18.35zM320.10 449.67h18.35v8.58h-18.35zM338.40 449.67h18.35v8.58h-18.35zM484.80 449.67h18.35v8.58h-18.35zM539.70 449.67h18.35v8.58h-18.35zM192.00 458.20h18.35v8.58h-18.35zM210.30 458.20h18.35v8.58h-18.35zM228.60 458.20h18.35v8.58h-18.35zM320.10 458.20h18.35v8.58h-18.35zM338.40 458.20h18.35v8.58h-18.35zM356.70 458.20h18.35v8.58h-18.35zM448.20 458.20h18.35v8.58h-18.35zM484.80 458.20h18.35v8.58h-18.35zM503.10 458.20h18.35v8.58h-18.35zM521.40 458.20h18.35v8.58h-18.35zM558.00 458.20h18.35v8.58h-18.35zM173.70 466.73h18.35v8.58h-18.35zM192.00 466.73h18.35v8.58h-18.35zM210.30 466.73h18.35v8.58h-18.35zM228.60 466.73h18.35v8.58h-18.35zM246.90 466.73h18.35v8.58h-18.35zM283.50 466.73h18.35v8.58h-18.35zM320.10 466.73h18.35v8.58h-18.35zM338.40 466.73h18.35v8.58h-18.35zM356.70 466.73h18.35v8.58h-18.35zM448.20 466.73h18.35v8.58h-18.35zM484.80 466.73h18.35v8.58h-18.35zM503.10 466.73h18.35v8.58h-18.35zM558.00 466.73h18.35v8.58h-18.35zM228.60 475.26h18.35v8.58h-18.35zM246.90 475.26h18.35v8.58h-18.35zM265.20 475.26h18.35v8.58h-18.35zM301.80 475.26h18.35v8.58h-18.35zM320.10 475.26h18.35v8.58h-18.35zM338.40 475.26h18.35v8.58h-18.35zM356.70 475.26h18.35v8.58h-18.35zM448.20 475.26h18.35v8.58h-18.35zM484.80 475.26h18.35v8.58h-18.35zM503.10 475.26h18.35v8.58h-18.35zM521.40 475.26h18.35v8.58h-18.35zM210.30 483.79h18.35v8.58h-18.35zM320.10 483.79h18.35v8.58h-18.35zM484.80 483.79h18.35v8.58h-18.35zM503.10 483.79h18.35v8.58h-18.35zM521.40 483.79h18.35v8.58h-18.35zM558.00 483.79h18.35v8.58h-18.35zM576.30 483.79h18.35v8.58h-18.35zM173.70 492.32h18.35v8.58h-18.35zM192.00 492.32h18.35v8.58h-18.35zM210.30 492.32h18.35v8.58h-18.35zM228.60 492.32h18.35v8.58h-18.35zM246.90 492.32h18.35v8.58h-18.35zM283.50 492.32h18.35v8.58h-18.35zM301.80 492.32h18.35v8.58h-18.35zM411.60 492.32h18.35v8.58h-18.35zM484.80 492.32h18.35v8.58h-18.35zM503.10 492.32h18.35v8.58h-18.35zM521.40 492.32h18.35v8.58h-18.35zM539.70 492.32h18.35v8.58h-18.35zM173.70 500.85h18.35v8.58h-18.35zM192.00 500.85h18.35v8.58h-18.35zM210.30 500.85h18.35v8.58h-18.35zM228.60 500.85h18.35v8.58h-18.35zM246.90 500.85h18.35v8.58h-18.35zM265.20 500.85h18.35v8.58h-18.35zM320.10 500.85h18.35v8.58h-18.35zM338.40 500.85h18.35v8.58h-18.35zM356.70 500.85h18.35v8.58h-18.35zM375.00 500.85h18.35v8.58h-18.35zM411.60 500.85h18.35v8.58h-18.35zM448.20 500.85h18.35v8.58h-18.35zM484.80 500.85h18.35v8.58h-18.35zM503.10 500.85h18.35v8.58h-18.35zM521.40 500.85h18.35v8.58h-18.35zM539.70 500.85h18.35v8.58h-18.35zM576.30 500.85h18.35v8.58h-18.35zM173.70 509.38h18.35v8.58h-18.35zM192.00 509.38h18.35v8.58h-18.35zM210.30 509.38h18.35v8.58h-18.35zM228.60 509.38h18.35v8.58h-18.35zM246.90 509.38h18.35v8.58h-18.35zM283.50 509.38h18.35v8.58h-18.35zM301.80 509.38h18.35v8.58h-18.35zM411.60 509.38h18.35v8.58h-18.35zM429.90 509.38h18.35v8.58h-18.35zM503.10 509.38h18.35v8.58h-18.35zM558.00 509.38h18.35v8.58h-18.35zM576.30 509.38h18.35v8.58h-18.35zM320.10 517.91h18.35v8.58h-18.35zM338.40 517.91h18.35v8.58h-18.35zM503.10 517.91h18.35v8.58h-18.35zM484.80 530.30h18.35v8.56h-18.35zM503.10 530.30h18.35v8.56h-18.35zM521.40 530.30h18.35v8.56h-18.35zM356.70 538.81h18.35v8.56h-18.35zM173.70 547.32h18.35v8.56h-18.35zM192.00 547.32h18.35v8.56h-18.35zM210.30 547.32h18.35v8.56h-18.35zM228.60 547.32h18.35v8.56h-18.35zM246.90 547.32h18.35v8.56h-18.35zM320.10 547.32h18.35v8.56h-18.35zM356.70 547.32h18.35v8.56h-18.35zM411.60 547.32h18.35v8.56h-18.35zM448.20 547.32h18.35v8.56h-18.35zM484.80 547.32h18.35v8.56h-18.35zM173.70 555.83h18.35v8.56h-18.35zM192.00 555.83h18.35v8.56h-18.35zM301.80 555.83h18.35v8.56h-18.35zM320.10 555.83h18.35v8.56h-18.35zM338.40 555.83h18.35v8.56h-18.35zM356.70 555.83h18.35v8.56h-18.35zM484.80 555.83h18.35v8.56h-18.35zM503.10 555.83h18.35v8.56h-18.35zM521.40 555.83h18.35v8.56h-18.35zM539.70 555.83h18.35v8.56h-18.35zM173.70 564.34h18.35v8.56h-18.35zM192.00 564.34h18.35v8.56h-18.35zM210.30 564.34h18.35v8.56h-18.35zM228.60 564.34h18.35v8.56h-18.35zM246.90 564.34h18.35v8.56h-18.35zM265.20 564.34h18.35v8.56h-18.35zM283.50 564.34h18.35v8.56h-18.35zM320.10 564.34h18.35v8.56h-18.35zM338.40 564.34h18.35v8.56h-18.35zM356.70 564.34h18.35v8.56h-18.35zM466.50 564.34h18.35v8.56h-18.35zM484.80 564.34h18.35v8.56h-18.35zM503.10 564.34h18.35v8.56h-18.35zM521.40 564.34h18.35v8.56h-18.35zM558.00 564.34h18.35v8.56h-18.35zM356.70 581.36h18.35v8.56h-18.35zM448.20 581.36h18.35v8.56h-18.35zM466.50 581.36h18.35v8.56h-18.35zM484.80 581.36h18.35v8.56h-18.35zM521.40 581.36h18.35v8.56h-18.35zM539.70 581.36h18.35v8.56h-18.35zM576.30 581.36h18.35v8.56h-18.35zM265.20 589.87h18.35v8.56h-18.35zM356.70 589.87h18.35v8.56h-18.35zM521.40 589.87h18.35v8.56h-18.35zM539.70 589.87h18.35v8.56h-18.35zM558.00 589.87h18.35v8.56h-18.35zM320.10 598.38h18.35v8.56h-18.35zM338.40 598.38h18.35v8.56h-18.35zM484.80 598.38h18.35v8.56h-18.35zM503.10 598.38h18.35v8.56h-18.35zM521.40 598.38h18.35v8.56h-18.35zM558.00 598.38h18.35v8.56h-18.35zM173.70 606.89h18.35v8.56h-18.35zM192.00 606.89h18.35v8.56h-18.35zM210.30 606.89h18.35v8.56h-18.35zM228.60 606.89h18.35v8.56h-18.35zM246.90 606.89h18.35v8.56h-18.35zM283.50 606.89h18.35v8.56h-18.35zM320.10 606.89h18.35v8.56h-18.35zM338.40 606.89h18.35v8.56h-18.35zM356.70 606.89h18.35v8.56h-18.35zM484.80 606.89h18.35v8.56h-18.35zM503.10 606.89h18.35v8.56h-18.35zM521.40 606.89h18.35v8.56h-18.35zM558.00 606.89h18.35v8.56h-18.35zM173.70 615.40h18.35v8.56h-18.35zM192.00 615.40h18.35v8.56h-18.35zM228.60 615.40h18.35v8.56h-18.35zM246.90 615.40h18.35v8.56h-18.35zM301.80 615.40h18.35v8.56h-18.35zM320.10 615.40h18.35v8.56h-18.35zM338.40 615.40h18.35v8.56h-18.35zM411.60 615.40h18.35v8.56h-18.35zM448.20 615.40h18.35v8.56h-18.35zM484.80 615.40h18.35v8.56h-18.35zM521.40 615.40h18.35v8.56h-18.35zM539.70 615.40h18.35v8.56h-18.35zM173.70 623.91h18.35v8.56h-18.35zM192.00 623.91h18.35v8.56h-18.35zM210.30 623.91h18.35v8.56h-18.35zM228.60 623.91h18.35v8.56h-18.35zM246.90 623.91h18.35v8.56h-18.35zM320.10 623.91h18.35v8.56h-18.35zM338.40 623.91h18.35v8.56h-18.35zM356.70 623.91h18.35v8.56h-18.35zM448.20 623.91h18.35v8.56h-18.35zM484.80 623.91h18.35v8.56h-18.35zM521.40 623.91h18.35v8.56h-18.35zM173.70 632.42h18.35v8.56h-18.35zM192.00 632.42h18.35v8.56h-18.35zM210.30 632.42h18.35v8.56h-18.35zM228.60 632.42h18.35v8.56h-18.35zM246.90 632.42h18.35v8.56h-18.35zM320.10 632.42h18.35v8.56h-18.35zM338.40 632.42h18.35v8.56h-18.35zM356.70 632.42h18.35v8.56h-18.35zM484.80 632.42h18.35v8.56h-18.35zM503.10 632.42h18.35v8.56h-18.35zM521.40 632.42h18.35v8.56h-18.35zM558.00 632.42h18.35v8.56h-18.35zM192.00 640.93h18.35v8.56h-18.35zM210.30 640.93h18.35v8.56h-18.35zM246.90 640.93h18.35v8.56h-18.35zM283.50 640.93h18.35v8.56h-18.35zM320.10 640.93h18.35v8.56h-18.35zM338.40 640.93h18.35v8.56h-18.35zM356.70 640.93h18.35v8.56h-18.35zM484.80 640.93h18.35v8.56h-18.35zM503.10 640.93h18.35v8.56h-18.35zM521.40 640.93h18.35v8.56h-18.35zM558.00 640.93h18.35v8.56h-18.35zM265.20 649.44h18.35v8.56h-18.35zM283.50 649.44h18.35v8.56h-18.35zM375.00 649.44h18.35v8.56h-18.35zM411.60 649.44h18.35v8.56h-18.35zM429.90 649.44h18.35v8.56h-18.35zM448.20 649.44h18.35v8.56h-18.35zM539.70 649.44h18.35v8.56h-18.35zM393.30 657.95h18.35v8.56h-18.35zM448.20 657.95h18.35v8.56h-18.35zM484.80 657.95h18.35v8.56h-18.35zM503.10 657.95h18.35v8.56h-18.35zM521.40 657.95h18.35v8.56h-18.35zM539.70 657.95h18.35v8.56h-18.35zM356.70 666.46h18.35v8.56h-18.35zM411.60 666.46h18.35v8.56h-18.35zM173.70 683.48h18.35v8.56h-18.35zM192.00 683.48h18.35v8.56h-18.35zM210.30 683.48h18.35v8.56h-18.35zM320.10 683.48h18.35v8.56h-18.35zM338.40 683.48h18.35v8.56h-18.35zM356.70 683.48h18.35v8.56h-18.35zM484.80 683.48h18.35v8.56h-18.35zM503.10 683.48h18.35v8.56h-18.35zM521.40 683.48h18.35v8.56h-18.35zM558.00 683.48h18.35v8.56h-18.35zM173.70 691.99h18.35v8.56h-18.35zM192.00 691.99h18.35v8.56h-18.35zM210.30 691.99h18.35v8.56h-18.35zM246.90 691.99h18.35v8.56h-18.35zM301.80 691.99h18.35v8.56h-18.35zM320.10 691.99h18.35v8.56h-18.35zM338.40 691.99h18.35v8.56h-18.35zM228.60 700.50h18.35v8.56h-18.35zM246.90 700.50h18.35v8.56h-18.35zM283.50 700.50h18.35v8.56h-18.35zM301.80 700.50h18.35v8.56h-18.35zM320.10 700.50h18.35v8.56h-18.35zM338.40 700.50h18.35v8.56h-18.35zM356.70 700.50h18.35v8.56h-18.35zM429.90 700.50h18.35v8.56h-18.35zM503.10 700.50h18.35v8.56h-18.35zM521.40 700.50h18.35v8.56h-18.35zM210.30 709.01h18.35v8.56h-18.35zM338.40 709.01h18.35v8.56h-18.35zM356.70 709.01h18.35v8.56h-18.35zM210.30 717.52h18.35v8.56h-18.35zM320.10 717.52h18.35v8.56h-18.35zM448.20 717.52h18.35v8.56h-18.35zM484.80 717.52h18.35v8.56h-18.35zM558.00 717.52h18.35v8.56h-18.35zM265.20 726.03h18.35v8.56h-18.35zM356.70 726.03h18.35v8.56h-18.35zM484.80 726.03h18.35v8.56h-18.35zM576.30 726.03h18.35v8.56h-18.35zM173.70 734.54h18.35v8.56h-18.35zM192.00 734.54h18.35v8.56h-18.35zM320.10 734.54h18.35v8.56h-18.35zM338.40 734.54h18.35v8.56h-18.35zM484.80 734.54h18.35v8.56h-18.35zM503.10 734.54h18.35v8.56h-18.35zM521.40 734.54h18.35v8.56h-18.35zM173.70 743.05h18.35v8.56h-18.35zM192.00 743.05h18.35v8.56h-18.35zM210.30 743.05h18.35v8.56h-18.35zM246.90 743.05h18.35v8.56h-18.35zM301.80 743.05h18.35v8.56h-18.35zM320.10 743.05h18.35v8.56h-18.35zM338.40 743.05h18.35v8.56h-18.35zM356.70 743.05h18.35v8.56h-18.35zM484.80 743.05h18.35v8.56h-18.35zM503.10 743.05h18.35v8.56h-18.35zM521.40 743.05h18.35v8.56h-18.35zM429.90 751.56h18.35v8.56h-18.35zM484.80 751.56h18.35v8.56h-18.35zM521.40 751.56h18.35v8.56h-18.35zM173.70 760.07h18.35v8.56h-18.35zM210.30 760.07h18.35v8.56h-18.35zM228.60 760.07h18.35v8.56h-18.35zM246.90 760.07h18.35v8.56h-18.35zM301.80 760.07h18.35v8.56h-18.35zM320.10 760.07h18.35v8.56h-18.35zM338.40 760.07h18.35v8.56h-18.35zM356.70 760.07h18.35v8.56h-18.35zM484.80 760.07h18.35v8.56h-18.35zM503.10 760.07h18.35v8.56h-18.35zM521.40 760.07h18.35v8.56h-18.35z"/>
<path fill="#ddddff" d="M228.60 27.84h18.35v8.59h-18.35zM484.80 27.84h18.35v8.59h-18.35zM558.00 27.84h18.35v8.59h-18.35zM173.70 36.38h18.35v8.59h-18.35zM192.00 36.38h18.35v8.59h-18.35zM210.30 36.38h18.35v8.59h-18.35zM246.90 36.38h18.35v8.59h-18.35zM301.80 36.38h18.35v8.59h-18.35zM484.80 36.38h18.35v8.59h-18.35zM503.10 36.38h18.35v8.59h-18.35zM558.00 36.38h18.35v8.59h-18.35zM283.50 44.92h18.35v8.59h-18.35zM356.70 44.92h18.35v8.59h-18.35zM558.00 44.92h18.35v8.59h-18.35zM576.30 44.92h18.35v8.59h-18.35zM429.90 53.46h18.35v8.59h-18.35zM503.10 53.46h18.35v8.59h-18.35zM466.50 70.54h18.35v8.59h-18.35zM484.80 70.54h18.35v8.59h-18.35zM503.10 70.54h18.35v8.59h-18.35zM558.00 70.54h18.35v8.59h-18.35zM411.60 79.08h18.35v8.59h-18.35zM429.90 79.08h18.35v8.59h-18.35zM173.70 96.16h18.35v8.59h-18.35zM192.00 96.16h18.35v8.59h-18.35zM210.30 96.16h18.35v8.59h-18.35zM228.60 96.16h18.35v8.59h-18.35zM246.90 96.16h18.35v8.59h-18.35zM320.10 96.16h18.35v8.59h-18.35zM338.40 96.16h18.35v8.59h-18.35zM521.40 96.16h18.35v8.59h-18.35zM503.10 104.70h18.35v8.59h-18.35zM448.20 113.24h18.35v8.59h-18.35zM503.10 113.24h18.35v8.59h-18.35zM521.40 113.24h18.35v8.59h-18.35zM576.30 113.24h18.35v8.59h-18.35zM375.00 121.78h18.35v8.59h-18.35zM411.60 121.78h18.35v8.59h-18.35zM484.80 121.78h18.35v8.59h-18.35zM521.40 121.78h18.35v8.59h-18.35zM539.70 121.78h18.35v8.59h-18.35zM466.50 130.32h18.35v8.59h-18.35zM484.80 130.32h18.35v8.59h-18.35zM301.80 138.86h18.35v8.59h-18.35zM539.70 138.86h18.35v8.59h-18.35zM576.30 138.86h18.35v8.59h-18.35zM283.50 147.40h18.35v8.59h-18.35zM356.70 155.94h18.35v8.59h-18.35zM521.40 155.94h18.35v8.59h-18.35zM283.50 164.48h18.35v8.59h-18.35zM466.50 164.48h18.35v8.59h-18.35zM503.10 164.48h18.35v8.59h-18.35zM521.40 164.48h18.35v8.59h-18.35zM576.30 164.48h18.35v8.59h-18.35zM228.60 181.56h18.35v8.59h-18.35zM539.70 181.56h18.35v8.59h-18.35zM356.70 190.10h18.35v8.59h-18.35zM484.80 190.10h18.35v8.59h-18.35zM521.40 190.10h18.35v8.59h-18.35zM558.00 190.10h18.35v8.59h-18.35zM265.20 198.64h18.35v8.59h-18.35zM375.00 198.64h18.35v8.59h-18.35zM411.60 198.64h18.35v8.59h-18.35zM448.20 198.64h18.35v8.59h-18.35zM466.50 215.72h18.35v8.59h-18.35zM539.70 215.72h18.35v8.59h-18.35zM484.80 224.26h18.35v8.59h-18.35zM503.10 224.26h18.35v8.59h-18.35zM558.00 224.26h18.35v8.59h-18.35zM283.50 232.80h18.35v8.59h-18.35zM429.90 241.34h18.35v8.59h-18.35zM448.20 249.88h18.35v8.59h-18.35zM484.80 249.88h18.35v8.59h-18.35zM539.70 249.88h18.35v8.59h-18.35zM484.80 258.42h18.35v8.59h-18.35zM539.70 258.42h18.35v8.59h-18.35zM246.90 266.96h18.35v8.59h-18.35zM265.20 266.96h18.35v8.59h-18.35zM338.40 266.96h18.35v8.59h-18.35zM466.50 266.96h18.35v8.59h-18.35zM192.00 275.50h18.35v8.59h-18.35zM301.80 275.50h18.35v8.59h-18.35zM484.80 275.50h18.35v8.59h-18.35zM265.20 287.60h18.35v8.58h-18.35zM173.70 296.13h18.35v8.58h-18.35zM338.40 296.13h18.35v8.58h-18.35zM503.10 296.13h18.35v8.58h-18.35zM411.60 304.66h18.35v8.58h-18.35zM265.20 313.19h18.35v8.58h-18.35zM375.00 313.19h18.35v8.58h-18.35zM173.70 321.72h18.35v8.58h-18.35zM375.00 321.72h18.35v8.58h-18.35zM539.70 321.72h18.35v8.58h-18.35zM576.30 321.72h18.35v8.58h-18.35zM210.30 330.25h18.35v8.58h-18.35zM448.20 330.25h18.35v8.58h-18.35zM466.50 330.25h18.35v8.58h-18.35zM539.70 330.25h18.35v8.58h-18.35zM228.60 347.31h18.35v8.58h-18.35zM301.80 347.31h18.35v8.58h-18.35zM466.50 347.31h18.35v8.58h-18.35zM539.70 347.31h18.35v8.58h-18.35zM576.30 347.31h18.35v8.58h-18.35zM265.20 355.84h18.35v8.58h-18.35zM283.50 355.84h18.35v8.58h-18.35zM375.00 355.84h18.35v8.58h-18.35zM411.60 355.84h18.35v8.58h-18.35zM429.90 355.84h18.35v8.58h-18.35zM466.50 355.84h18.35v8.58h-18.35zM558.00 355.84h18.35v8.58h-18.35zM283.50 364.37h18.35v8.58h-18.35zM301.80 364.37h18.35v8.58h-18.35zM375.00 364.37h18.35v8.58h-18.35zM411.60 364.37h18.35v8.58h-18.35zM429.90 364.37h18.35v8.58h-18.35zM558.00 364.37h18.35v8.58h-18.35zM228.60 372.90h18.35v8.58h-18.35zM265.20 372.90h18.35v8.58h-18.35zM283.50 372.90h18.35v8.58h-18.35zM539.70 381.43h18.35v8.58h-18.35zM484.80 389.96h18.35v8.58h-18.35zM246.90 398.49h18.35v8.58h-18.35zM320.10 398.49h18.35v8.58h-18.35zM338.40 398.49h18.35v8.58h-18.35zM356.70 398.49h18.35v8.58h-18.35zM429.90 398.49h18.35v8.58h-18.35zM448.20 398.49h18.35v8.58h-18.35zM466.50 398.49h18.35v8.58h-18.35zM503.10 398.49h18.35v8.58h-18.35zM539.70 398.49h18.35v8.58h-18.35zM228.60 407.02h18.35v8.58h-18.35zM429.90 407.02h18.35v8.58h-18.35zM558.00 407.02h18.35v8.58h-18.35zM576.30 407.02h18.35v8.58h-18.35zM210.30 415.55h18.35v8.58h-18.35zM228.60 415.55h18.35v8.58h-18.35zM283.50 415.55h18.35v8.58h-18.35zM411.60 424.08h18.35v8.58h-18.35zM283.50 432.61h18.35v8.58h-18.35zM448.20 432.61h18.35v8.58h-18.35zM503.10 432.61h18.35v8.58h-18.35zM246.90 441.14h18.35v8.58h-18.35zM265.20 441.14h18.35v8.58h-18.35zM283.50 441.14h18.35v8.58h-18.35zM301.80 441.14h18.35v8.58h-18.35zM448.20 441.14h18.35v8.58h-18.35zM466.50 441.14h18.35v8.58h-18.35zM539.70 441.14h18.35v8.58h-18.35zM301.80 449.67h18.35v8.58h-18.35zM576.30 449.67h18.35v8.58h-18.35zM411.60 458.20h18.35v8.58h-18.35zM466.50 458.20h18.35v8.58h-18.35zM539.70 458.20h18.35v8.58h-18.35zM265.20 466.73h18.35v8.58h-18.35zM411.60 466.73h18.35v8.58h-18.35zM429.90 466.73h18.35v8.58h-18.35zM521.40 466.73h18.35v8.58h-18.35zM539.70 466.73h18.35v8.58h-18.35zM466.50 475.26h18.35v8.58h-18.35zM539.70 475.26h18.35v8.58h-18.35zM558.00 475.26h18.35v8.58h-18.35zM576.30 475.26h18.35v8.58h-18.35zM228.60 483.79h18.35v8.58h-18.35zM246.90 483.79h18.35v8.58h-18.35zM356.70 483.79h18.35v8.58h-18.35zM539.70 483.79h18.35v8.58h-18.35zM375.00 492.32h18.35v8.58h-18.35zM429.90 492.32h18.35v8.58h-18.35zM283.50 500.85h18.35v8.58h-18.35zM301.80 500.85h18.35v8.58h-18.35zM393.30 500.85h18.35v8.58h-18.35zM466.50 500.85h18.35v8.58h-18.35zM466.50 509.38h18.35v8.58h-18.35zM246.90 517.91h18.35v8.58h-18.35zM448.20 517.91h18.35v8.58h-18.35zM521.40 517.91h18.35v8.58h-18.35zM558.00 517.91h18.35v8.58h-18.35zM173.70 530.30h18.35v8.56h-18.35zM210.30 530.30h18.35v8.56h-18.35zM246.90 530.30h18.35v8.56h-18.35zM301.80 530.30h18.35v8.56h-18.35zM320.10 530.30h18.35v8.56h-18.35zM338.40 530.30h18.35v8.56h-18.35zM356.70 530.30h18.35v8.56h-18.35zM448.20 530.30h18.35v8.56h-18.35zM558.00 530.30h18.35v8.56h-18.35zM192.00 538.81h18.35v8.56h-18.35zM210.30 538.81h18.35v8.56h-18.35zM246.90 538.81h18.35v8.56h-18.35zM283.50 538.81h18.35v8.56h-18.35zM320.10 538.81h18.35v8.56h-18.35zM338.40 538.81h18.35v8.56h-18.35zM448.20 538.81h18.35v8.56h-18.35zM484.80 538.81h18.35v8.56h-18.35zM503.10 538.81h18.35v8.56h-18.35zM558.00 547.32h18.35v8.56h-18.35zM301.80 564.34h18.35v8.56h-18.35zM539.70 564.34h18.35v8.56h-18.35zM576.30 564.34h18.35v8.56h-18.35zM192.00 572.85h18.35v8.56h-18.35zM246.90 572.85h18.35v8.56h-18.35zM521.40 572.85h18.35v8.56h-18.35zM283.50 581.36h18.35v8.56h-18.35zM375.00 589.87h18.35v8.56h-18.35zM466.50 589.87h18.35v8.56h-18.35zM173.70 598.38h18.35v8.56h-18.35zM192.00 598.38h18.35v8.56h-18.35zM210.30 598.38h18.35v8.56h-18.35zM228.60 598.38h18.35v8.56h-18.35zM246.90 598.38h18.35v8.56h-18.35zM301.80 598.38h18.35v8.56h-18.35zM356.70 598.38h18.35v8.56h-18.35zM466.50 598.38h18.35v8.56h-18.35zM539.70 598.38h18.35v8.56h-18.35zM265.20 606.89h18.35v8.56h-18.35zM301.80 606.89h18.35v8.56h-18.35zM411.60 606.89h18.35v8.56h-18.35zM429.90 606.89h18.35v8.56h-18.35zM448.20 606.89h18.35v8.56h-18.35zM356.70 615.40h18.35v8.56h-18.35zM429.90 615.40h18.35v8.56h-18.35zM576.30 615.40h18.35v8.56h-18.35zM411.60 623.91h18.35v8.56h-18.35zM283.50 632.42h18.35v8.56h-18.35zM411.60 632.42h18.35v8.56h-18.35zM448.20 632.42h18.35v8.56h-18.35zM466.50 632.42h18.35v8.56h-18.35zM539.70 632.42h18.35v8.56h-18.35zM173.70 640.93h18.35v8.56h-18.35zM301.80 640.93h18.35v8.56h-18.35zM466.50 640.93h18.35v8.56h-18.35zM539.70 640.93h18.35v8.56h-18.35zM393.30 649.44h18.35v8.56h-18.35zM503.10 666.46h18.35v8.56h-18.35zM558.00 666.46h18.35v8.56h-18.35zM484.80 674.97h18.35v8.56h-18.35zM503.10 674.97h18.35v8.56h-18.35zM521.40 674.97h18.35v8.56h-18.35zM558.00 674.97h18.35v8.56h-18.35zM228.60 683.48h18.35v8.56h-18.35zM301.80 683.48h18.35v8.56h-18.35zM411.60 683.48h18.35v8.56h-18.35zM429.90 683.48h18.35v8.56h-18.35zM228.60 691.99h18.35v8.56h-18.35zM265.20 691.99h18.35v8.56h-18.35zM466.50 691.99h18.35v8.56h-18.35zM503.10 691.99h18.35v8.56h-18.35zM521.40 691.99h18.35v8.56h-18.35zM539.70 691.99h18.35v8.56h-18.35zM558.00 700.50h18.35v8.56h-18.35zM246.90 709.01h18.35v8.56h-18.35zM576.30 709.01h18.35v8.56h-18.35zM246.90 717.52h18.35v8.56h-18.35zM301.80 717.52h18.35v8.56h-18.35zM429.90 717.52h18.35v8.56h-18.35zM411.60 726.03h18.35v8.56h-18.35zM448.20 726.03h18.35v8.56h-18.35zM246.90 734.54h18.35v8.56h-18.35zM356.70 734.54h18.35v8.56h-18.35zM228.60 743.05h18.35v8.56h-18.35zM283.50 743.05h18.35v8.56h-18.35zM411.60 751.56h18.35v8.56h-18.35zM448.20 760.07h18.35v8.56h-18.35z"/>
<path fill="#0000ff" d="M265.20 27.84h18.35v8.59h-18.35zM265.20 53.46h18.35v8.59h-18.35zM393.30 70.54h18.35v8.59h-18.35zM283.50 87.62h18.35v8.59h-18.35zM539.70 87.62h18.35v8.59h-18.35zM375.00 104.70h18.35v8.59h-18.35zM558.00 104.70h18.35v8.59h-18.35zM393.30 113.24h18.35v8.59h-18.35zM375.00 130.32h18.35v8.59h-18.35zM484.80 155.94h18.35v8.59h-18.35zM576.30 155.94h18.35v8.59h-18.35zM356.70 164.48h18.35v8.59h-18.35zM393.30 164.48h18.35v8.59h-18.35zM411.60 181.56h18.35v8.59h-18.35zM411.60 207.18h18.35v8.59h-18.35zM429.90 207.18h18.35v8.59h-18.35zM375.00 224.26h18.35v8.59h-18.35zM393.30 224.26h18.35v8.59h-18.35zM411.60 224.26h18.35v8.59h-18.35zM356.70 232.80h18.35v8.59h-18.35zM558.00 232.80h18.35v8.59h-18.35zM576.30 249.88h18.35v8.59h-18.35zM393.30 258.42h18.35v8.59h-18.35zM375.00 266.96h18.35v8.59h-18.35zM393.30 266.96h18.35v8.59h-18.35zM429.90 266.96h18.35v8.59h-18.35zM283.50 296.13h18.35v8.58h-18.35zM393.30 296.13h18.35v8.58h-18.35zM375.00 347.31h18.35v8.58h-18.35zM411.60 347.31h18.35v8.58h-18.35zM393.30 415.55h18.35v8.58h-18.35zM393.30 424.08h18.35v8.58h-18.35zM393.30 449.67h18.35v8.58h-18.35zM576.30 466.73h18.35v8.58h-18.35zM393.30 483.79h18.35v8.58h-18.35zM576.30 530.30h18.35v8.56h-18.35zM393.30 564.34h18.35v8.56h-18.35zM429.90 564.34h18.35v8.56h-18.35zM393.30 572.85h18.35v8.56h-18.35zM558.00 615.40h18.35v8.56h-18.35zM393.30 640.93h18.35v8.56h-18.35zM301.80 666.46h18.35v8.56h-18.35zM466.50 666.46h18.35v8.56h-18.35zM393.30 700.50h18.35v8.56h-18.35zM228.60 734.54h18.35v8.56h-18.35zM558.00 751.56h18.35v8.56h-18.35z"/>
<path fill="#8c8cff" d="M283.50 27.84h18.35v8.59h-18.35zM448.20 27.84h18.35v8.59h-18.35zM429.90 36.38h18.35v8.59h-18.35zM265.20 44.92h18.35v8.59h-18.35zM411.60 62.00h18.35v8.59h-18.35zM539.70 62.00h18.35v8.59h-18.35zM429.90 70.54h18.35v8.59h-18.35zM429.90 87.62h18.35v8.59h-18.35zM466.50 87.62h18.35v8.59h-18.35zM265.20 104.70h18.35v8.59h-18.35zM429.90 104.70h18.35v8.59h-18.35zM448.20 104.70h18.35v8.59h-18.35zM539.70 104.70h18.35v8.59h-18.35zM576.30 104.70h18.35v8.59h-18.35zM283.50 113.24h18.35v8.59h-18.35zM301.80 147.40h18.35v8.59h-18.35zM466.50 147.40h18.35v8.59h-18.35zM558.00 147.40h18.35v8.59h-18.35zM228.60 155.94h18.35v8.59h-18.35zM265.20 164.48h18.35v8.59h-18.35zM503.10 181.56h18.35v8.59h-18.35zM411.60 190.10h18.35v8.59h-18.35zM429.90 190.10h18.35v8.59h-18.35zM466.50 190.10h18.35v8.59h-18.35zM558.00 207.18h18.35v8.59h-18.35zM356.70 224.26h18.35v8.59h-18.35zM429.90 224.26h18.35v8.59h-18.35zM265.20 232.80h18.35v8.59h-18.35zM228.60 241.34h18.35v8.59h-18.35zM393.30 241.34h18.35v8.59h-18.35zM448.20 241.34h18.35v8.59h-18.35zM356.70 266.96h18.35v8.59h-18.35zM448.20 275.50h18.35v8.59h-18.35zM411.60 296.13h18.35v8.58h-18.35zM558.00 313.19h18.35v8.58h-18.35zM411.60 321.72h18.35v8.58h-18.35zM228.60 338.78h18.35v8.58h-18.35zM521.40 338.78h18.35v8.58h-18.35zM393.30 355.84h18.35v8.58h-18.35zM429.90 372.90h18.35v8.58h-18.35zM265.20 381.43h18.35v8.58h-18.35zM393.30 381.43h18.35v8.58h-18.35zM558.00 381.43h18.35v8.58h-18.35zM301.80 398.49h18.35v8.58h-18.35zM393.30 398.49h18.35v8.58h-18.35zM375.00 407.02h18.35v8.58h-18.35zM539.70 415.55h18.35v8.58h-18.35zM375.00 432.61h18.35v8.58h-18.35zM539.70 432.61h18.35v8.58h-18.35zM411.60 441.14h18.35v8.58h-18.35zM301.80 458.20h18.35v8.58h-18.35zM375.00 466.73h18.35v8.58h-18.35zM393.30 475.26h18.35v8.58h-18.35zM265.20 483.79h18.35v8.58h-18.35zM283.50 483.79h18.35v8.58h-18.35zM301.80 483.79h18.35v8.58h-18.35zM393.30 492.32h18.35v8.58h-18.35zM192.00 517.91h18.35v8.58h-18.35zM539.70 517.91h18.35v8.58h-18.35zM283.50 530.30h18.35v8.56h-18.35zM375.00 530.30h18.35v8.56h-18.35zM393.30 530.30h18.35v8.56h-18.35zM466.50 530.30h18.35v8.56h-18.35zM411.60 538.81h18.35v8.56h-18.35zM301.80 547.32h18.35v8.56h-18.35zM393.30 547.32h18.35v8.56h-18.35zM539.70 547.32h18.35v8.56h-18.35zM429.90 555.83h18.35v8.56h-18.35zM411.60 572.85h18.35v8.56h-18.35zM265.20 598.38h18.35v8.56h-18.35zM429.90 598.38h18.35v8.56h-18.35zM375.00 606.89h18.35v8.56h-18.35zM393.30 615.40h18.35v8.56h-18.35zM375.00 640.93h18.35v8.56h-18.35zM411.60 640.93h18.35v8.56h-18.35zM265.20 666.46h18.35v8.56h-18.35zM375.00 666.46h18.35v8.56h-18.35zM393.30 666.46h18.35v8.56h-18.35zM265.20 674.97h18.35v8.56h-18.35zM466.50 674.97h18.35v8.56h-18.35zM576.30 674.97h18.35v8.56h-18.35zM393.30 683.48h18.35v8.56h-18.35zM393.30 691.99h18.35v8.56h-18.35zM448.20 691.99h18.35v8.56h-18.35zM466.50 700.50h18.35v8.56h-18.35zM539.70 700.50h18.35v8.56h-18.35zM265.20 709.01h18.35v8.56h-18.35zM375.00 709.01h18.35v8.56h-18.35zM466.50 709.01h18.35v8.56h-18.35zM356.70 717.52h18.35v8.56h-18.35zM466.50 717.52h18.35v8.56h-18.35zM539.70 717.52h18.35v8.56h-18.35zM429.90 726.03h18.35v8.56h-18.35z"/>
<path fill="#aeaeff" d="M301.80 27.84h18.35v8.59h-18.35zM539.70 27.84h18.35v8.59h-18.35zM576.30 27.84h18.35v8.59h-18.35zM411.60 36.38h18.35v8.59h-18.35zM448.20 36.38h18.35v8.59h-18.35zM576.30 36.38h18.35v8.59h-18.35zM411.60 44.92h18.35v8.59h-18.35zM466.50 44.92h18.35v8.59h-18.35zM375.00 53.46h18.35v8.59h-18.35zM375.00 70.54h18.35v8.59h-18.35zM448.20 70.54h18.35v8.59h-18.35zM539.70 96.16h18.35v8.59h-18.35zM228.60 104.70h18.35v8.59h-18.35zM246.90 104.70h18.35v8.59h-18.35zM356.70 130.32h18.35v8.59h-18.35zM228.60 138.86h18.35v8.59h-18.35zM356.70 147.40h18.35v8.59h-18.35zM484.80 147.40h18.35v8.59h-18.35zM503.10 147.40h18.35v8.59h-18.35zM210.30 155.94h18.35v8.59h-18.35zM503.10 155.94h18.35v8.59h-18.35zM411.60 164.48h18.35v8.59h-18.35zM484.80 164.48h18.35v8.59h-18.35zM484.80 181.56h18.35v8.59h-18.35zM558.00 181.56h18.35v8.59h-18.35zM576.30 181.56h18.35v8.59h-18.35zM448.20 190.10h18.35v8.59h-18.35zM484.80 207.18h18.35v8.59h-18.35zM265.20 215.72h18.35v8.59h-18.35zM448.20 215.72h18.35v8.59h-18.35zM576.30 215.72h18.35v8.59h-18.35zM448.20 224.26h18.35v8.59h-18.35zM539.70 224.26h18.35v8.59h-18.35zM228.60 232.80h18.35v8.59h-18.35zM393.30 232.80h18.35v8.59h-18.35zM429.90 232.80h18.35v8.59h-18.35zM265.20 258.42h18.35v8.59h-18.35zM411.60 258.42h18.35v8.59h-18.35zM429.90 258.42h18.35v8.59h-18.35zM448.20 258.42h18.35v8.59h-18.35zM411.60 266.96h18.35v8.59h-18.35zM448.20 266.96h18.35v8.59h-18.35zM375.00 287.60h18.35v8.58h-18.35zM228.60 296.13h18.35v8.58h-18.35zM393.30 304.66h18.35v8.58h-18.35zM429.90 321.72h18.35v8.58h-18.35zM448.20 321.72h18.35v8.58h-18.35zM466.50 321.72h18.35v8.58h-18.35zM375.00 330.25h18.35v8.58h-18.35zM429.90 330.25h18.35v8.58h-18.35zM558.00 330.25h18.35v8.58h-18.35zM301.80 338.78h18.35v8.58h-18.35zM576.30 338.78h18.35v8.58h-18.35zM265.20 347.31h18.35v8.58h-18.35zM429.90 347.31h18.35v8.58h-18.35zM448.20 347.31h18.35v8.58h-18.35zM393.30 364.37h18.35v8.58h-18.35zM539.70 364.37h18.35v8.58h-18.35zM375.00 372.90h18.35v8.58h-18.35zM466.50 372.90h18.35v8.58h-18.35zM576.30 372.90h18.35v8.58h-18.35zM283.50 381.43h18.35v8.58h-18.35zM228.60 389.96h18.35v8.58h-18.35zM265.20 389.96h18.35v8.58h-18.35zM466.50 389.96h18.35v8.58h-18.35zM228.60 398.49h18.35v8.58h-18.35zM375.00 398.49h18.35v8.58h-18.35zM576.30 415.55h18.35v8.58h-18.35zM375.00 424.08h18.35v8.58h-18.35zM558.00 424.08h18.35v8.58h-18.35zM411.60 432.61h18.35v8.58h-18.35zM228.60 441.14h18.35v8.58h-18.35zM429.90 441.14h18.35v8.58h-18.35zM558.00 441.14h18.35v8.58h-18.35zM228.60 449.67h18.35v8.58h-18.35zM375.00 449.67h18.35v8.58h-18.35zM375.00 458.20h18.35v8.58h-18.35zM429.90 458.20h18.35v8.58h-18.35zM393.30 466.73h18.35v8.58h-18.35zM375.00 475.26h18.35v8.58h-18.35zM411.60 475.26h18.35v8.58h-18.35zM429.90 475.26h18.35v8.58h-18.35zM393.30 509.38h18.35v8.58h-18.35zM539.70 509.38h18.35v8.58h-18.35zM356.70 517.91h18.35v8.58h-18.35zM375.00 517.91h18.35v8.58h-18.35zM466.50 517.91h18.35v8.58h-18.35zM484.80 517.91h18.35v8.58h-18.35zM265.20 530.30h18.35v8.56h-18.35zM301.80 538.81h18.35v8.56h-18.35zM429.90 538.81h18.35v8.56h-18.35zM466.50 538.81h18.35v8.56h-18.35zM521.40 538.81h18.35v8.56h-18.35zM338.40 547.32h18.35v8.56h-18.35zM265.20 555.83h18.35v8.56h-18.35zM375.00 555.83h18.35v8.56h-18.35zM393.30 555.83h18.35v8.56h-18.35zM448.20 555.83h18.35v8.56h-18.35zM576.30 555.83h18.35v8.56h-18.35zM375.00 564.34h18.35v8.56h-18.35zM283.50 572.85h18.35v8.56h-18.35zM375.00 572.85h18.35v8.56h-18.35zM448.20 572.85h18.35v8.56h-18.35zM429.90 581.36h18.35v8.56h-18.35zM393.30 589.87h18.35v8.56h-18.35zM375.00 598.38h18.35v8.56h-18.35zM411.60 598.38h18.35v8.56h-18.35zM393.30 606.89h18.35v8.56h-18.35zM466.50 606.89h18.35v8.56h-18.35zM539.70 606.89h18.35v8.56h-18.35zM466.50 615.40h18.35v8.56h-18.35zM503.10 615.40h18.35v8.56h-18.35zM265.20 623.91h18.35v8.56h-18.35zM283.50 623.91h18.35v8.56h-18.35zM301.80 623.91h18.35v8.56h-18.35zM375.00 623.91h18.35v8.56h-18.35zM558.00 623.91h18.35v8.56h-18.35zM375.00 632.42h18.35v8.56h-18.35zM429.90 632.42h18.35v8.56h-18.35zM429.90 640.93h18.35v8.56h-18.35zM576.30 649.44h18.35v8.56h-18.35zM576.30 657.95h18.35v8.56h-18.35zM539.70 666.46h18.35v8.56h-18.35zM576.30 666.46h18.35v8.56h-18.35zM210.30 674.97h18.35v8.56h-18.35zM228.60 674.97h18.35v8.56h-18.35zM283.50 674.97h18.35v8.56h-18.35zM429.90 674.97h18.35v8.56h-18.35zM375.00 683.48h18.35v8.56h-18.35zM539.70 683.48h18.35v8.56h-18.35zM558.00 691.99h18.35v8.56h-18.35zM411.60 700.50h18.35v8.56h-18.35zM448.20 700.50h18.35v8.56h-18.35zM429.90 709.01h18.35v8.56h-18.35zM558.00 709.01h18.35v8.56h-18.35zM283.50 717.52h18.35v8.56h-18.35zM411.60 717.52h18.35v8.56h-18.35zM375.00 726.03h18.35v8.56h-18.35zM210.30 734.54h18.35v8.56h-18.35zM265.20 743.05h18.35v8.56h-18.35zM375.00 743.05h18.35v8.56h-18.35zM283.50 751.56h18.35v8.56h-18.35zM265.20 760.07h18.35v8.56h-18.35zM283.50 760.07h18.35v8.56h-18.35zM375.00 760.07h18.35v8.56h-18.35zM466.50 760.07h18.35v8.56h-18.35zM558.00 760.07h18.35v8.56h-18.35z"/>
<path fill="#000078" d="M375.00 27.84h18.35v8.59h-18.35zM375.00 36.38h18.35v8.59h-18.35zM301.80 44.92h18.35v8.59h-18.35zM393.30 53.46h18.35v8.59h-18.35zM448.20 53.46h18.35v8.59h-18.35zM265.20 87.62h18.35v8.59h-18.35zM576.30 87.62h18.35v8.59h-18.35zM265.20 96.16h18.35v8.59h-18.35zM375.00 96.16h18.35v8.59h-18.35zM393.30 96.16h18.35v8.59h-18.35zM411.60 96.16h18.35v8.59h-18.35zM375.00 113.24h18.35v8.59h-18.35zM393.30 130.32h18.35v8.59h-18.35zM411.60 130.32h18.35v8.59h-18.35zM429.90 130.32h18.35v8.59h-18.35zM448.20 130.32h18.35v8.59h-18.35zM210.30 138.86h18.35v8.59h-18.35zM375.00 155.94h18.35v8.59h-18.35zM393.30 155.94h18.35v8.59h-18.35zM411.60 155.94h18.35v8.59h-18.35zM375.00 164.48h18.35v8.59h-18.35zM539.70 164.48h18.35v8.59h-18.35zM393.30 181.56h18.35v8.59h-18.35zM375.00 190.10h18.35v8.59h-18.35zM393.30 215.72h18.35v8.59h-18.35zM375.00 232.80h18.35v8.59h-18.35zM539.70 232.80h18.35v8.59h-18.35zM576.30 232.80h18.35v8.59h-18.35zM375.00 275.50h18.35v8.59h-18.35zM576.30 275.50h18.35v8.59h-18.35zM265.20 296.13h18.35v8.58h-18.35zM393.30 313.19h18.35v8.58h-18.35zM411.60 313.19h18.35v8.58h-18.35zM429.90 313.19h18.35v8.58h-18.35zM448.20 313.19h18.35v8.58h-18.35zM265.20 338.78h18.35v8.58h-18.35zM283.50 338.78h18.35v8.58h-18.35zM393.30 338.78h18.35v8.58h-18.35zM411.60 338.78h18.35v8.58h-18.35zM429.90 338.78h18.35v8.58h-18.35zM448.20 338.78h18.35v8.58h-18.35zM393.30 347.31h18.35v8.58h-18.35zM576.30 381.43h18.35v8.58h-18.35zM393.30 389.96h18.35v8.58h-18.35zM466.50 449.67h18.35v8.58h-18.35zM265.20 458.20h18.35v8.58h-18.35zM283.50 458.20h18.35v8.58h-18.35zM576.30 458.20h18.35v8.58h-18.35zM375.00 483.79h18.35v8.58h-18.35zM173.70 517.91h18.35v8.58h-18.35zM210.30 517.91h18.35v8.58h-18.35zM265.20 517.91h18.35v8.58h-18.35zM283.50 517.91h18.35v8.58h-18.35zM393.30 517.91h18.35v8.58h-18.35zM411.60 517.91h18.35v8.58h-18.35zM576.30 538.81h18.35v8.56h-18.35zM576.30 598.38h18.35v8.56h-18.35zM393.30 623.91h18.35v8.56h-18.35zM246.90 674.97h18.35v8.56h-18.35zM576.30 691.99h18.35v8.56h-18.35zM448.20 709.01h18.35v8.56h-18.35zM539.70 726.03h18.35v8.56h-18.35zM265.20 734.54h18.35v8.56h-18.35zM283.50 734.54h18.35v8.56h-18.35zM301.80 734.54h18.35v8.56h-18.35zM466.50 734.54h18.35v8.56h-18.35zM393.30 743.05h18.35v8.56h-18.35zM411.60 743.05h18.35v8.56h-18.35zM576.30 743.05h18.35v8.56h-18.35zM576.30 760.07h18.35v8.56h-18.35z"/>
<path fill="#0000c9" d="M393.30 27.84h18.35v8.59h-18.35zM393.30 62.00h18.35v8.59h-18.35zM429.90 96.16h18.35v8.59h-18.35zM265.20 113.24h18.35v8.59h-18.35zM375.00 138.86h18.35v8.59h-18.35zM393.30 138.86h18.35v8.59h-18.35zM375.00 147.40h18.35v8.59h-18.35zM429.90 147.40h18.35v8.59h-18.35zM448.20 147.40h18.35v8.59h-18.35zM265.20 155.94h18.35v8.59h-18.35zM283.50 155.94h18.35v8.59h-18.35zM228.60 164.48h18.35v8.59h-18.35zM429.90 181.56h18.35v8.59h-18.35zM503.10 190.10h18.35v8.59h-18.35zM375.00 207.18h18.35v8.59h-18.35zM448.20 207.18h18.35v8.59h-18.35zM375.00 241.34h18.35v8.59h-18.35zM466.50 304.66h18.35v8.58h-18.35zM576.30 313.19h18.35v8.58h-18.35zM411.60 389.96h18.35v8.58h-18.35zM283.50 407.02h18.35v8.58h-18.35zM375.00 415.55h18.35v8.58h-18.35zM576.30 640.93h18.35v8.56h-18.35zM576.30 700.50h18.35v8.56h-18.35zM393.30 709.01h18.35v8.56h-18.35zM393.30 734.54h18.35v8.56h-18.35zM576.30 734.54h18.35v8.56h-18.35zM429.90 743.05h18.35v8.56h-18.35z"/>
<path fill="#6666ff" d="M411.60 27.84h18.35v8.59h-18.35zM429.90 27.84h18.35v8.59h-18.35zM228.60 36.38h18.35v8.59h-18.35zM393.30 36.38h18.35v8.59h-18.35zM228.60 44.92h18.35v8.59h-18.35zM393.30 44.92h18.35v8.59h-18.35zM375.00 62.00h18.35v8.59h-18.35zM429.90 62.00h18.35v8.59h-18.35zM411.60 87.62h18.35v8.59h-18.35zM448.20 87.62h18.35v8.59h-18.35zM558.00 87.62h18.35v8.59h-18.35zM484.80 96.16h18.35v8.59h-18.35zM558.00 96.16h18.35v8.59h-18.35zM411.60 104.70h18.35v8.59h-18.35zM429.90 113.24h18.35v8.59h-18.35zM283.50 130.32h18.35v8.59h-18.35zM411.60 138.86h18.35v8.59h-18.35zM429.90 138.86h18.35v8.59h-18.35zM265.20 147.40h18.35v8.59h-18.35zM466.50 155.94h18.35v8.59h-18.35zM448.20 164.48h18.35v8.59h-18.35zM448.20 181.56h18.35v8.59h-18.35zM393.30 190.10h18.35v8.59h-18.35zM301.80 207.18h18.35v8.59h-18.35zM466.50 207.18h18.35v8.59h-18.35zM539.70 207.18h18.35v8.59h-18.35zM466.50 224.26h18.35v8.59h-18.35zM393.30 249.88h18.35v8.59h-18.35zM228.60 258.42h18.35v8.59h-18.35zM375.00 258.42h18.35v8.59h-18.35zM411.60 275.50h18.35v8.59h-18.35zM539.70 275.50h18.35v8.59h-18.35zM558.00 275.50h18.35v8.59h-18.35zM558.00 287.60h18.35v8.58h-18.35zM429.90 296.13h18.35v8.58h-18.35zM539.70 296.13h18.35v8.58h-18.35zM558.00 296.13h18.35v8.58h-18.35zM375.00 304.66h18.35v8.58h-18.35zM411.60 330.25h18.35v8.58h-18.35zM576.30 330.25h18.35v8.58h-18.35zM375.00 338.78h18.35v8.58h-18.35zM539.70 338.78h18.35v8.58h-18.35zM375.00 381.43h18.35v8.58h-18.35zM466.50 381.43h18.35v8.58h-18.35zM448.20 389.96h18.35v8.58h-18.35zM393.30 407.02h18.35v8.58h-18.35zM429.90 415.55h18.35v8.58h-18.35zM466.50 415.55h18.35v8.58h-18.35zM539.70 424.08h18.35v8.58h-18.35zM393.30 432.61h18.35v8.58h-18.35zM375.00 441.14h18.35v8.58h-18.35zM393.30 441.14h18.35v8.58h-18.35zM393.30 458.20h18.35v8.58h-18.35zM429.90 483.79h18.35v8.58h-18.35zM429.90 500.85h18.35v8.58h-18.35zM576.30 517.91h18.35v8.58h-18.35zM539.70 530.30h18.35v8.56h-18.35zM265.20 547.32h18.35v8.56h-18.35zM429.90 547.32h18.35v8.56h-18.35zM466.50 547.32h18.35v8.56h-18.35zM283.50 555.83h18.35v8.56h-18.35zM558.00 555.83h18.35v8.56h-18.35zM448.20 564.34h18.35v8.56h-18.35zM429.90 572.85h18.35v8.56h-18.35zM375.00 581.36h18.35v8.56h-18.35zM283.50 598.38h18.35v8.56h-18.35zM265.20 615.40h18.35v8.56h-18.35zM375.00 615.40h18.35v8.56h-18.35zM576.30 623.91h18.35v8.56h-18.35zM265.20 632.42h18.35v8.56h-18.35zM393.30 632.42h18.35v8.56h-18.35zM375.00 674.97h18.35v8.56h-18.35zM375.00 691.99h18.35v8.56h-18.35zM411.60 709.01h18.35v8.56h-18.35zM265.20 717.52h18.35v8.56h-18.35zM375.00 717.52h18.35v8.56h-18.35zM393.30 717.52h18.35v8.56h-18.35zM411.60 734.54h18.35v8.56h-18.35zM429.90 734.54h18.35v8.56h-18.35zM558.00 734.54h18.35v8.56h-18.35zM448.20 743.05h18.35v8.56h-18.35zM466.50 743.05h18.35v8.56h-18.35zM393.30 751.56h18.35v8.56h-18.35zM429.90 760.07h18.35v8.56h-18.35z"/>
<path fill="#3333ff" d="M265.20 36.38h18.35v8.59h-18.35zM283.50 36.38h18.35v8.59h-18.35zM375.00 44.92h18.35v8.59h-18.35zM375.00 87.62h18.35v8.59h-18.35zM393.30 87.62h18.35v8.59h-18.35zM283.50 96.16h18.35v8.59h-18.35zM576.30 96.16h18.35v8.59h-18.35zM393.30 104.70h18.35v8.59h-18.35zM265.20 130.32h18.35v8.59h-18.35zM448.20 138.86h18.35v8.59h-18.35zM539.70 147.40h18.35v8.59h-18.35zM448.20 155.94h18.35v8.59h-18.35zM539.70 155.94h18.35v8.59h-18.35zM429.90 164.48h18.35v8.59h-18.35zM228.60 215.72h18.35v8.59h-18.35zM375.00 215.72h18.35v8.59h-18.35zM411.60 215.72h18.35v8.59h-18.35zM429.90 215.72h18.35v8.59h-18.35zM228.60 266.96h18.35v8.59h-18.35zM246.90 275.50h18.35v8.59h-18.35zM265.20 275.50h18.35v8.59h-18.35zM393.30 275.50h18.35v8.59h-18.35zM429.90 275.50h18.35v8.59h-18.35zM466.50 296.13h18.35v8.58h-18.35zM576.30 296.13h18.35v8.58h-18.35zM539.70 313.19h18.35v8.58h-18.35zM393.30 321.72h18.35v8.58h-18.35zM393.30 330.25h18.35v8.58h-18.35zM393.30 372.90h18.35v8.58h-18.35zM375.00 389.96h18.35v8.58h-18.35zM429.90 389.96h18.35v8.58h-18.35zM411.60 415.55h18.35v8.58h-18.35zM265.20 432.61h18.35v8.58h-18.35zM411.60 449.67h18.35v8.58h-18.35zM411.60 483.79h18.35v8.58h-18.35zM466.50 483.79h18.35v8.58h-18.35zM558.00 492.32h18.35v8.58h-18.35zM265.20 538.81h18.35v8.56h-18.35zM375.00 538.81h18.35v8.56h-18.35zM393.30 538.81h18.35v8.56h-18.35zM375.00 547.32h18.35v8.56h-18.35zM576.30 547.32h18.35v8.56h-18.35zM411.60 564.34h18.35v8.56h-18.35zM393.30 598.38h18.35v8.56h-18.35zM393.30 674.97h18.35v8.56h-18.35zM411.60 674.97h18.35v8.56h-18.35zM375.00 700.50h18.35v8.56h-18.35zM393.30 726.03h18.35v8.56h-18.35zM375.00 734.54h18.35v8.56h-18.35zM265.20 751.56h18.35v8.56h-18.35zM375.00 751.56h18.35v8.56h-18.35zM466.50 751.56h18.35v8.56h-18.35zM411.60 760.07h18.35v8.56h-18.35z"/>
<path fill="#c8c8ff" d="M466.50 36.38h18.35v8.59h-18.35zM521.40 36.38h18.35v8.59h-18.35zM539.70 36.38h18.35v8.59h-18.35zM429.90 44.92h18.35v8.59h-18.35zM448.20 44.92h18.35v8.59h-18.35zM539.70 44.92h18.35v8.59h-18.35zM228.60 53.46h18.35v8.59h-18.35zM466.50 53.46h18.35v8.59h-18.35zM539.70 53.46h18.35v8.59h-18.35zM448.20 62.00h18.35v8.59h-18.35zM466.50 62.00h18.35v8.59h-18.35zM484.80 62.00h18.35v8.59h-18.35zM411.60 70.54h18.35v8.59h-18.35zM375.00 79.08h18.35v8.59h-18.35zM393.30 79.08h18.35v8.59h-18.35zM484.80 87.62h18.35v8.59h-18.35zM301.80 96.16h18.35v8.59h-18.35zM356.70 96.16h18.35v8.59h-18.35zM466.50 96.16h18.35v8.59h-18.35zM503.10 96.16h18.35v8.59h-18.35zM466.50 104.70h18.35v8.59h-18.35zM411.60 113.24h18.35v8.59h-18.35zM484.80 113.24h18.35v8.59h-18.35zM539.70 113.24h18.35v8.59h-18.35zM301.80 121.78h18.35v8.59h-18.35zM393.30 121.78h18.35v8.59h-18.35zM448.20 121.78h18.35v8.59h-18.35zM576.30 130.32h18.35v8.59h-18.35zM301.80 164.48h18.35v8.59h-18.35zM173.70 173.02h18.35v8.59h-18.35zM192.00 173.02h18.35v8.59h-18.35zM210.30 173.02h18.35v8.59h-18.35zM228.60 173.02h18.35v8.59h-18.35zM246.90 173.02h18.35v8.59h-18.35zM265.20 173.02h18.35v8.59h-18.35zM283.50 173.02h18.35v8.59h-18.35zM301.80 173.02h18.35v8.59h-18.35zM320.10 173.02h18.35v8.59h-18.35zM338.40 173.02h18.35v8.59h-18.35zM356.70 173.02h18.35v8.59h-18.35zM375.00 173.02h18.35v8.59h-18.35zM393.30 173.02h18.35v8.59h-18.35zM411.60 173.02h18.35v8.59h-18.35zM429.90 173.02h18.35v8.59h-18.35zM448.20 173.02h18.35v8.59h-18.35zM466.50 173.02h18.35v8.59h-18.35zM484.80 173.02h18.35v8.59h-18.35zM503.10 173.02h18.35v8.59h-18.35zM521.40 173.02h18.35v8.59h-18.35zM539.70 173.02h18.35v8.59h-18.35zM558.00 173.02h18.35v8.59h-18.35zM576.30 173.02h18.35v8.59h-18.35zM228.60 190.10h18.35v8.59h-18.35zM265.20 190.10h18.35v8.59h-18.35zM539.70 190.10h18.35v8.59h-18.35zM576.30 190.10h18.35v8.59h-18.35zM393.30 198.64h18.35v8.59h-18.35zM173.70 207.18h18.35v8.59h-18.35zM192.00 207.18h18.35v8.59h-18.35zM210.30 207.18h18.35v8.59h-18.35zM228.60 207.18h18.35v8.59h-18.35zM246.90 207.18h18.35v8.59h-18.35zM265.20 207.18h18.35v8.59h-18.35zM283.50 207.18h18.35v8.59h-18.35zM320.10 207.18h18.35v8.59h-18.35zM338.40 207.18h18.35v8.59h-18.35zM356.70 207.18h18.35v8.59h-18.35zM503.10 207.18h18.35v8.59h-18.35zM521.40 207.18h18.35v8.59h-18.35zM576.30 207.18h18.35v8.59h-18.35zM228.60 224.26h18.35v8.59h-18.35zM265.20 224.26h18.35v8.59h-18.35zM448.20 232.80h18.35v8.59h-18.35zM265.20 249.88h18.35v8.59h-18.35zM375.00 249.88h18.35v8.59h-18.35zM283.50 258.42h18.35v8.59h-18.35zM466.50 258.42h18.35v8.59h-18.35zM539.70 266.96h18.35v8.59h-18.35zM466.50 275.50h18.35v8.59h-18.35zM503.10 275.50h18.35v8.59h-18.35zM466.50 287.60h18.35v8.58h-18.35zM539.70 287.60h18.35v8.58h-18.35zM173.70 304.66h18.35v8.58h-18.35zM228.60 304.66h18.35v8.58h-18.35zM283.50 304.66h18.35v8.58h-18.35zM429.90 304.66h18.35v8.58h-18.35zM558.00 304.66h18.35v8.58h-18.35zM466.50 313.19h18.35v8.58h-18.35zM558.00 321.72h18.35v8.58h-18.35zM173.70 338.78h18.35v8.58h-18.35zM210.30 347.31h18.35v8.58h-18.35zM283.50 347.31h18.35v8.58h-18.35zM265.20 364.37h18.35v8.58h-18.35zM466.50 364.37h18.35v8.58h-18.35zM539.70 372.90h18.35v8.58h-18.35zM558.00 372.90h18.35v8.58h-18.35zM210.30 389.96h18.35v8.58h-18.35zM283.50 389.96h18.35v8.58h-18.35zM301.80 389.96h18.35v8.58h-18.35zM539.70 389.96h18.35v8.58h-18.35zM265.20 398.49h18.35v8.58h-18.35zM411.60 398.49h18.35v8.58h-18.35zM265.20 407.02h18.35v8.58h-18.35zM466.50 407.02h18.35v8.58h-18.35zM301.80 415.55h18.35v8.58h-18.35zM429.90 424.08h18.35v8.58h-18.35zM466.50 424.08h18.35v8.58h-18.35zM228.60 432.61h18.35v8.58h-18.35zM429.90 432.61h18.35v8.58h-18.35zM466.50 432.61h18.35v8.58h-18.35zM173.70 458.20h18.35v8.58h-18.35zM301.80 466.73h18.35v8.58h-18.35zM466.50 466.73h18.35v8.58h-18.35zM173.70 483.79h18.35v8.58h-18.35zM448.20 483.79h18.35v8.58h-18.35zM265.20 492.32h18.35v8.58h-18.35zM466.50 492.32h18.35v8.58h-18.35zM558.00 500.85h18.35v8.58h-18.35zM265.20 509.38h18.35v8.58h-18.35zM375.00 509.38h18.35v8.58h-18.35zM228.60 517.91h18.35v8.58h-18.35zM301.80 517.91h18.35v8.58h-18.35zM192.00 530.30h18.35v8.56h-18.35zM228.60 530.30h18.35v8.56h-18.35zM411.60 530.30h18.35v8.56h-18.35zM429.90 530.30h18.35v8.56h-18.35zM173.70 538.81h18.35v8.56h-18.35zM228.60 538.81h18.35v8.56h-18.35zM539.70 538.81h18.35v8.56h-18.35zM558.00 538.81h18.35v8.56h-18.35zM503.10 547.32h18.35v8.56h-18.35zM210.30 555.83h18.35v8.56h-18.35zM228.60 555.83h18.35v8.56h-18.35zM246.90 555.83h18.35v8.56h-18.35zM411.60 555.83h18.35v8.56h-18.35zM173.70 572.85h18.35v8.56h-18.35zM210.30 572.85h18.35v8.56h-18.35zM228.60 572.85h18.35v8.56h-18.35zM265.20 572.85h18.35v8.56h-18.35zM301.80 572.85h18.35v8.56h-18.35zM320.10 572.85h18.35v8.56h-18.35zM338.40 572.85h18.35v8.56h-18.35zM356.70 572.85h18.35v8.56h-18.35zM466.50 572.85h18.35v8.56h-18.35zM484.80 572.85h18.35v8.56h-18.35zM503.10 572.85h18.35v8.56h-18.35zM539.70 572.85h18.35v8.56h-18.35zM558.00 572.85h18.35v8.56h-18.35zM576.30 572.85h18.35v8.56h-18.35zM393.30 581.36h18.35v8.56h-18.35zM429.90 589.87h18.35v8.56h-18.35zM448.20 589.87h18.35v8.56h-18.35zM448.20 598.38h18.35v8.56h-18.35zM576.30 606.89h18.35v8.56h-18.35zM210.30 615.40h18.35v8.56h-18.35zM283.50 615.40h18.35v8.56h-18.35zM429.90 623.91h18.35v8.56h-18.35zM466.50 623.91h18.35v8.56h-18.35zM539.70 623.91h18.35v8.56h-18.35zM301.80 632.42h18.35v8.56h-18.35zM576.30 632.42h18.35v8.56h-18.35zM228.60 640.93h18.35v8.56h-18.35zM265.20 640.93h18.35v8.56h-18.35zM448.20 640.93h18.35v8.56h-18.35zM558.00 657.95h18.35v8.56h-18.35zM283.50 666.46h18.35v8.56h-18.35zM429.90 666.46h18.35v8.56h-18.35zM521.40 666.46h18.35v8.56h-18.35zM173.70 674.97h18.35v8.56h-18.35zM192.00 674.97h18.35v8.56h-18.35zM301.80 674.97h18.35v8.56h-18.35zM320.10 674.97h18.35v8.56h-18.35zM338.40 674.97h18.35v8.56h-18.35zM356.70 674.97h18.35v8.56h-18.35zM448.20 674.97h18.35v8.56h-18.35zM539.70 674.97h18.35v8.56h-18.35zM246.90 683.48h18.35v8.56h-18.35zM265.20 683.48h18.35v8.56h-18.35zM283.50 683.48h18.35v8.56h-18.35zM448.20 683.48h18.35v8.56h-18.35zM466.50 683.48h18.35v8.56h-18.35zM576.30 683.48h18.35v8.56h-18.35zM283.50 691.99h18.35v8.56h-18.35zM356.70 691.99h18.35v8.56h-18.35zM411.60 691.99h18.35v8.56h-18.35zM429.90 691.99h18.35v8.56h-18.35zM484.80 691.99h18.35v8.56h-18.35zM265.20 700.50h18.35v8.56h-18.35zM228.60 709.01h18.35v8.56h-18.35zM283.50 709.01h18.35v8.56h-18.35zM301.80 709.01h18.35v8.56h-18.35zM539.70 709.01h18.35v8.56h-18.35zM173.70 717.52h18.35v8.56h-18.35zM228.60 717.52h18.35v8.56h-18.35zM576.30 717.52h18.35v8.56h-18.35zM448.20 734.54h18.35v8.56h-18.35zM539.70 734.54h18.35v8.56h-18.35zM539.70 743.05h18.35v8.56h-18.35zM558.00 743.05h18.35v8.56h-18.35zM539.70 751.56h18.35v8.56h-18.35zM192.00 760.07h18.35v8.56h-18.35zM539.70 760.07h18.35v8.56h-18.35z"/>
<path fill="#00009a" d="M283.50 53.46h18.35v8.59h-18.35zM448.20 96.16h18.35v8.59h-18.35zM393.30 147.40h18.35v8.59h-18.35zM411.60 147.40h18.35v8.59h-18.35zM375.00 181.56h18.35v8.59h-18.35zM393.30 207.18h18.35v8.59h-18.35zM411.60 249.88h18.35v8.59h-18.35zM375.00 296.13h18.35v8.58h-18.35zM429.90 517.91h18.35v8.58h-18.35zM393.30 760.07h18.35v8.56h-18.35z"/>
<path fill="#ffffff" d="M155.0 18.30h18.40v8.54h-18.40zM155.0 78.05h18.40v8.53h-18.40zM155.0 103.65h18.40v8.54h-18.40zM155.0 120.72h18.40v8.53h-18.40zM155.0 171.93h18.40v8.53h-18.40zM155.0 197.54h18.40v8.53h-18.40zM155.0 240.21h18.40v8.53h-18.40zM155.0 287.60h18.40v8.49h-18.40zM155.0 304.57h18.40v8.49h-18.40zM155.0 355.49h18.40v8.49h-18.40zM155.0 363.97h18.40v8.49h-18.40zM155.0 380.95h18.40v8.49h-18.40zM155.0 397.92h18.40v8.49h-18.40zM155.0 406.40h18.40v8.49h-18.40zM155.0 440.35h18.40v8.49h-18.40zM155.0 465.81h18.40v8.49h-18.40zM155.0 474.29h18.40v8.49h-18.40zM155.0 491.26h18.40v8.49h-18.40zM155.0 499.75h18.40v8.49h-18.40zM155.0 508.24h18.40v8.49h-18.40zM155.0 530.00h18.40v8.48h-18.40zM155.0 538.48h18.40v8.48h-18.40zM155.0 546.96h18.40v8.48h-18.40zM155.0 555.44h18.40v8.48h-18.40zM155.0 580.88h18.40v8.48h-18.40zM155.0 589.36h18.40v8.48h-18.40zM155.0 606.32h18.40v8.48h-18.40zM155.0 614.80h18.40v8.48h-18.40zM155.0 631.76h18.40v8.48h-18.40zM155.0 648.72h18.40v8.48h-18.40zM155.0 657.20h18.40v8.48h-18.40zM155.0 682.64h18.40v8.48h-18.40zM155.0 691.12h18.40v8.48h-18.40zM155.0 716.56h18.40v8.48h-18.40zM155.0 750.48h18.40v8.48h-18.40z"/>
<path fill="#f64dd6" d="M155.0 26.84h18.40v8.54h-18.40zM155.0 35.37h18.40v8.53h-18.40zM155.0 43.91h18.40v8.53h-18.40zM155.0 52.44h18.40v8.53h-18.40zM155.0 60.97h18.40v8.54h-18.40zM155.0 69.51h18.40v8.53h-18.40zM155.0 86.58h18.40v8.53h-18.40zM155.0 95.11h18.40v8.53h-18.40zM155.0 112.19h18.40v8.53h-18.40zM155.0 129.25h18.40v8.54h-18.40zM155.0 137.79h18.40v8.53h-18.40zM155.0 146.33h18.40v8.53h-18.40zM155.0 154.86h18.40v8.53h-18.40zM155.0 163.40h18.40v8.53h-18.40zM155.0 180.47h18.40v8.53h-18.40zM155.0 189.00h18.40v8.54h-18.40zM155.0 206.07h18.40v8.53h-18.40zM155.0 214.61h18.40v8.53h-18.40zM155.0 223.14h18.40v8.53h-18.40zM155.0 231.68h18.40v8.53h-18.40zM155.0 248.75h18.40v8.54h-18.40zM155.0 257.28h18.40v8.53h-18.40zM155.0 265.81h18.40v8.54h-18.40zM155.0 274.35h18.40v8.53h-18.40zM155.0 296.09h18.40v8.49h-18.40zM155.0 313.06h18.40v8.49h-18.40zM155.0 321.54h18.40v8.49h-18.40zM155.0 330.03h18.40v8.49h-18.40zM155.0 338.52h18.40v8.49h-18.40zM155.0 347.00h18.40v8.49h-18.40zM155.0 372.46h18.40v8.49h-18.40zM155.0 389.43h18.40v8.49h-18.40zM155.0 414.89h18.40v8.49h-18.40zM155.0 423.38h18.40v8.49h-18.40zM155.0 431.86h18.40v8.49h-18.40zM155.0 448.83h18.40v8.49h-18.40zM155.0 457.32h18.40v8.49h-18.40zM155.0 482.78h18.40v8.49h-18.40zM155.0 516.72h18.40v8.49h-18.40zM155.0 563.92h18.40v8.48h-18.40zM155.0 572.40h18.40v8.48h-18.40zM155.0 597.84h18.40v8.48h-18.40zM155.0 623.28h18.40v8.48h-18.40zM155.0 640.24h18.40v8.48h-18.40zM155.0 665.68h18.40v8.48h-18.40zM155.0 674.16h18.40v8.48h-18.40zM155.0 699.60h18.40v8.48h-18.40zM155.0 708.08h18.40v8.48h-18.40zM155.0 725.04h18.40v8.48h-18.40zM155.0 733.52h18.40v8.48h-18.40zM155.0 742.00h18.40v8.48h-18.40zM155.0 758.96h18.40v8.48h-18.40z"/>
<path fill="none" stroke="#111" stroke-width="1.15" d="M173.70 19.30H594.60M173.70 27.84H594.60M173.70 36.38H594.60M173.70 44.92H594.60M173.70 53.46H594.60M173.70 62.00H594.60M173.70 70.54H594.60M173.70 79.08H594.60M173.70 87.62H594.60M173.70 96.16H594.60M173.70 104.70H594.60M173.70 113.24H594.60M173.70 121.78H594.60M173.70 130.32H594.60M173.70 138.86H594.60M173.70 147.40H594.60M173.70 155.94H594.60M173.70 164.48H594.60M173.70 173.02H594.60M173.70 181.56H594.60M173.70 190.10H594.60M173.70 198.64H594.60M173.70 207.18H594.60M173.70 215.72H594.60M173.70 224.26H594.60M173.70 232.80H594.60M173.70 241.34H594.60M173.70 249.88H594.60M173.70 258.42H594.60M173.70 266.96H594.60M173.70 275.50H594.60M173.70 284.04H594.60M173.70 287.60H594.60M173.70 296.13H594.60M173.70 304.66H594.60M173.70 313.19H594.60M173.70 321.72H594.60M173.70 330.25H594.60M173.70 338.78H594.60M173.70 347.31H594.60M173.70 355.84H594.60M173.70 364.37H594.60M173.70 372.90H594.60M173.70 381.43H594.60M173.70 389.96H594.60M173.70 398.49H594.60M173.70 407.02H594.60M173.70 415.55H594.60M173.70 424.08H594.60M173.70 432.61H594.60M173.70 441.14H594.60M173.70 449.67H594.60M173.70 458.20H594.60M173.70 466.73H594.60M173.70 475.26H594.60M173.70 483.79H594.60M173.70 492.32H594.60M173.70 500.85H594.60M173.70 509.38H594.60M173.70 517.91H594.60M173.70 526.44H594.60M173.70 530.30H594.60M173.70 538.81H594.60M173.70 547.32H594.60M173.70 555.83H594.60M173.70 564.34H594.60M173.70 572.85H594.60M173.70 581.36H594.60M173.70 589.87H594.60M173.70 598.38H594.60M173.70 606.89H594.60M173.70 615.40H594.60M173.70 623.91H594.60M173.70 632.42H594.60M173.70 640.93H594.60M173.70 649.44H594.60M173.70 657.95H594.60M173.70 666.46H594.60M173.70 674.97H594.60M173.70 683.48H594.60M173.70 691.99H594.60M173.70 700.50H594.60M173.70 709.01H594.60M173.70 717.52H594.60M173.70 726.03H594.60M173.70 734.54H594.60M173.70 743.05H594.60M173.70 751.56H594.60M173.70 760.07H594.60M173.70 768.58H594.60M173.70 19.30V284.04M173.70 287.60V526.44M173.70 530.30V768.58M192.00 19.30V284.04M192.00 287.60V526.44M192.00 530.30V768.58M210.30 19.30V284.04M210.30 287.60V526.44M210.30 530.30V768.58M228.60 19.30V284.04M228.60 287.60V526.44M228.60 530.30V768.58M246.90 19.30V284.04M246.90 287.60V526.44M246.90 530.30V768.58M265.20 19.30V284.04M265.20 287.60V526.44M265.20 530.30V768.58M283.50 19.30V284.04M283.50 287.60V526.44M283.50 530.30V768.58M301.80 19.30V284.04M301.80 287.60V526.44M301.80 530.30V768.58M320.10 19.30V284.04M320.10 287.60V526.44M320.10 530.30V768.58M338.40 19.30V284.04M338.40 287.60V526.44M338.40 530.30V768.58M356.70 19.30V284.04M356.70 287.60V526.44M356.70 530.30V768.58M375.00 19.30V284.04M375.00 287.60V526.44M375.00 530.30V768.58M393.30 19.30V284.04M393.30 287.60V526.44M393.30 530.30V768.58M411.60 19.30V284.04M411.60 287.60V526.44M411.60 530.30V768.58M429.90 19.30V284.04M429.90 287.60V526.44M429.90 530.30V768.58M448.20 19.30V284.04M448.20 287.60V526.44M448.20 530.30V768.58M466.50 19.30V284.04M466.50 287.60V526.44M466.50 530.30V768.58M484.80 19.30V284.04M484.80 287.60V526.44M484.80 530.30V768.58M503.10 19.30V284.04M503.10 287.60V526.44M503.10 530.30V768.58M521.40 19.30V284.04M521.40 287.60V526.44M521.40 530.30V768.58M539.70 19.30V284.04M539.70 287.60V526.44M539.70 530.30V768.58M558.00 19.30V284.04M558.00 287.60V526.44M558.00 530.30V768.58M576.30 19.30V284.04M576.30 287.60V526.44M576.30 530.30V768.58M594.60 19.30V284.04M594.60 287.60V526.44M594.60 530.30V768.58"/>
<path fill="none" stroke="#111" stroke-width="1.2" d="M155.00 18.30H173.40M155.00 26.84H173.40M155.00 35.37H173.40M155.00 43.91H173.40M155.00 52.44H173.40M155.00 60.97H173.40M155.00 69.51H173.40M155.00 78.05H173.40M155.00 86.58H173.40M155.00 95.11H173.40M155.00 103.65H173.40M155.00 112.19H173.40M155.00 120.72H173.40M155.00 129.25H173.40M155.00 137.79H173.40M155.00 146.33H173.40M155.00 154.86H173.40M155.00 163.40H173.40M155.00 171.93H173.40M155.00 180.47H173.40M155.00 189.00H173.40M155.00 197.54H173.40M155.00 206.07H173.40M155.00 214.61H173.40M155.00 223.14H173.40M155.00 231.68H173.40M155.00 240.21H173.40M155.00 248.75H173.40M155.00 257.28H173.40M155.00 265.81H173.40M155.00 274.35H173.40M155.00 282.88H173.40M155.00 287.60H173.40M155.00 296.09H173.40M155.00 304.57H173.40M155.00 313.06H173.40M155.00 321.54H173.40M155.00 330.03H173.40M155.00 338.52H173.40M155.00 347.00H173.40M155.00 355.49H173.40M155.00 363.97H173.40M155.00 372.46H173.40M155.00 380.95H173.40M155.00 389.43H173.40M155.00 397.92H173.40M155.00 406.40H173.40M155.00 414.89H173.40M155.00 423.38H173.40M155.00 431.86H173.40M155.00 440.35H173.40M155.00 448.83H173.40M155.00 457.32H173.40M155.00 465.81H173.40M155.00 474.29H173.40M155.00 482.78H173.40M155.00 491.26H173.40M155.00 499.75H173.40M155.00 508.24H173.40M155.00 516.72H173.40M155.00 525.21H173.40M155.00 530.00H173.40M155.00 538.48H173.40M155.00 546.96H173.40M155.00 555.44H173.40M155.00 563.92H173.40M155.00 572.40H173.40M155.00 580.88H173.40M155.00 589.36H173.40M155.00 597.84H173.40M155.00 606.32H173.40M155.00 614.80H173.40M155.00 623.28H173.40M155.00 631.76H173.40M155.00 640.24H173.40M155.00 648.72H173.40M155.00 657.20H173.40M155.00 665.68H173.40M155.00 674.16H173.40M155.00 682.64H173.40M155.00 691.12H173.40M155.00 699.60H173.40M155.00 708.08H173.40M155.00 716.56H173.40M155.00 725.04H173.40M155.00 733.52H173.40M155.00 742.00H173.40M155.00 750.48H173.40M155.00 758.96H173.40M155.00 767.44H173.40"/>
<line x1="155.00" x2="155.00" y1="18.30" y2="282.88" stroke="#000" stroke-width="1.6"/>
<line x1="155.00" x2="155.00" y1="287.60" y2="525.21" stroke="#000" stroke-width="1.6"/>
<line x1="155.00" x2="155.00" y1="530.00" y2="767.44" stroke="#000" stroke-width="1.6"/>
<line x1="173.20" x2="595.60" y1="19.3" y2="19.3" stroke="#000" stroke-width="2.2"/>
<line x1="594.90" x2="594.90" y1="18.2" y2="770.4" stroke="#000" stroke-width="2.2"/>
<line x1="154" x2="596.00" y1="769.0" y2="769.0" stroke="#000" stroke-width="2.8"/>
<line x1="154.9" x2="154.9" y1="17.8" y2="770.4" stroke="#000" stroke-width="1.9"/>
<line x1="173.4" x2="173.4" y1="17.8" y2="770" stroke="#000" stroke-width="1.6"/>
<line x1="146" x2="154.5" y1="22.57" y2="22.57" stroke="#000" stroke-width="2"/>
<text x="144.0" y="28.77" font-size="16.6" font-weight="bold" text-anchor="end">1</text>
<line x1="146" x2="154.5" y1="48.17" y2="48.17" stroke="#000" stroke-width="2"/>
<text x="144.0" y="54.37" font-size="16.6" font-weight="bold" text-anchor="end">4</text>
<line x1="146" x2="154.5" y1="73.78" y2="73.78" stroke="#000" stroke-width="2"/>
<text x="144.0" y="79.98" font-size="16.6" font-weight="bold" text-anchor="end">7</text>
<line x1="146" x2="154.5" y1="99.38" y2="99.38" stroke="#000" stroke-width="2"/>
<text x="144.0" y="105.58" font-size="16.6" font-weight="bold" text-anchor="end">10</text>
<line x1="146" x2="154.5" y1="124.99" y2="124.99" stroke="#000" stroke-width="2"/>
<text x="144.0" y="131.19" font-size="16.6" font-weight="bold" text-anchor="end">13</text>
<line x1="146" x2="154.5" y1="150.59" y2="150.59" stroke="#000" stroke-width="2"/>
<text x="144.0" y="156.79" font-size="16.6" font-weight="bold" text-anchor="end">16</text>
<line x1="146" x2="154.5" y1="176.20" y2="176.20" stroke="#000" stroke-width="2"/>
<text x="144.0" y="182.40" font-size="16.6" font-weight="bold" text-anchor="end">19</text>
<line x1="146" x2="154.5" y1="201.80" y2="201.80" stroke="#000" stroke-width="2"/>
<text x="144.0" y="208.00" font-size="16.6" font-weight="bold" text-anchor="end">22</text>
<line x1="146" x2="154.5" y1="227.41" y2="227.41" stroke="#000" stroke-width="2"/>
<text x="144.0" y="233.61" font-size="16.6" font-weight="bold" text-anchor="end">25</text>
<line x1="146" x2="154.5" y1="253.01" y2="253.01" stroke="#000" stroke-width="2"/>
<text x="144.0" y="259.21" font-size="16.6" font-weight="bold" text-anchor="end">28</text>
<line x1="146" x2="154.5" y1="278.62" y2="278.62" stroke="#000" stroke-width="2"/>
<text x="144.0" y="284.82" font-size="16.6" font-weight="bold" text-anchor="end">31</text>
<line x1="146" x2="154.5" y1="308.82" y2="308.82" stroke="#000" stroke-width="2"/>
<text x="144.0" y="315.02" font-size="16.6" font-weight="bold" text-anchor="end">34</text>
<line x1="146" x2="154.5" y1="334.27" y2="334.27" stroke="#000" stroke-width="2"/>
<text x="144.0" y="340.47" font-size="16.6" font-weight="bold" text-anchor="end">37</text>
<line x1="146" x2="154.5" y1="359.73" y2="359.73" stroke="#000" stroke-width="2"/>
<text x="144.0" y="365.93" font-size="16.6" font-weight="bold" text-anchor="end">40</text>
<line x1="146" x2="154.5" y1="385.19" y2="385.19" stroke="#000" stroke-width="2"/>
<text x="144.0" y="391.39" font-size="16.6" font-weight="bold" text-anchor="end">43</text>
<line x1="146" x2="154.5" y1="410.65" y2="410.65" stroke="#000" stroke-width="2"/>
<text x="144.0" y="416.85" font-size="16.6" font-weight="bold" text-anchor="end">46</text>
<line x1="146" x2="154.5" y1="436.11" y2="436.11" stroke="#000" stroke-width="2"/>
<text x="144.0" y="442.31" font-size="16.6" font-weight="bold" text-anchor="end">49</text>
<line x1="146" x2="154.5" y1="461.56" y2="461.56" stroke="#000" stroke-width="2"/>
<text x="144.0" y="467.76" font-size="16.6" font-weight="bold" text-anchor="end">52</text>
<line x1="146" x2="154.5" y1="487.02" y2="487.02" stroke="#000" stroke-width="2"/>
<text x="144.0" y="493.22" font-size="16.6" font-weight="bold" text-anchor="end">55</text>
<line x1="146" x2="154.5" y1="512.48" y2="512.48" stroke="#000" stroke-width="2"/>
<text x="144.0" y="518.68" font-size="16.6" font-weight="bold" text-anchor="end">58</text>
<line x1="146" x2="154.5" y1="542.72" y2="542.72" stroke="#000" stroke-width="2"/>
<text x="144.0" y="548.92" font-size="16.6" font-weight="bold" text-anchor="end">61</text>
<line x1="146" x2="154.5" y1="568.16" y2="568.16" stroke="#000" stroke-width="2"/>
<text x="144.0" y="574.36" font-size="16.6" font-weight="bold" text-anchor="end">64</text>
<line x1="146" x2="154.5" y1="593.60" y2="593.60" stroke="#000" stroke-width="2"/>
<text x="144.0" y="599.80" font-size="16.6" font-weight="bold" text-anchor="end">67</text>
<line x1="146" x2="154.5" y1="619.04" y2="619.04" stroke="#000" stroke-width="2"/>
<text x="144.0" y="625.24" font-size="16.6" font-weight="bold" text-anchor="end">70</text>
<line x1="146" x2="154.5" y1="644.48" y2="644.48" stroke="#000" stroke-width="2"/>
<text x="144.0" y="650.68" font-size="16.6" font-weight="bold" text-anchor="end">73</text>
<line x1="146" x2="154.5" y1="669.92" y2="669.92" stroke="#000" stroke-width="2"/>
<text x="144.0" y="676.12" font-size="16.6" font-weight="bold" text-anchor="end">76</text>
<line x1="146" x2="154.5" y1="695.36" y2="695.36" stroke="#000" stroke-width="2"/>
<text x="144.0" y="701.56" font-size="16.6" font-weight="bold" text-anchor="end">79</text>
<line x1="146" x2="154.5" y1="720.80" y2="720.80" stroke="#000" stroke-width="2"/>
<text x="144.0" y="727.00" font-size="16.6" font-weight="bold" text-anchor="end">82</text>
<line x1="146" x2="154.5" y1="746.24" y2="746.24" stroke="#000" stroke-width="2"/>
<text x="144.0" y="752.44" font-size="16.6" font-weight="bold" text-anchor="end">85</text>
<rect x="375.2" y="770" width="19.8" height="107" fill="#ff0000"/>
<rect x="447.8" y="770" width="19.8" height="107.6" fill="#fba043"/>
<rect x="486.9" y="770" width="17.6" height="107" fill="#ff0000"/>
<line x1="164.30" x2="164.30" y1="769" y2="778.3" stroke="#000" stroke-width="2.5"/>
<text transform="translate(170.74,1009.05) rotate(-90)" font-size="18.0" font-weight="bold">Diagnostic results, Borelia</text>
<line x1="182.85" x2="182.85" y1="769" y2="778.3" stroke="#000" stroke-width="2.5"/>
<text transform="translate(189.29,848.92) rotate(-90)" font-size="18.0" font-weight="bold">VlsE Ba</text>
<line x1="201.15" x2="201.15" y1="769" y2="778.3" stroke="#000" stroke-width="2.5"/>
<text transform="translate(207.59,848.55) rotate(-90)" font-size="18.0" font-weight="bold">VlsE Bg</text>
<line x1="219.45" x2="219.45" y1="769" y2="778.3" stroke="#000" stroke-width="2.5"/>
<text transform="translate(225.89,848.05) rotate(-90)" font-size="18.0" font-weight="bold">VlsE Bs</text>
<line x1="237.75" x2="237.75" y1="769" y2="778.3" stroke="#000" stroke-width="2.5"/>
<text transform="translate(244.19,812.17) rotate(-90)" font-size="18.0" font-weight="bold">p83</text>
<line x1="256.05" x2="256.05" y1="769" y2="778.3" stroke="#000" stroke-width="2.5"/>
<text transform="translate(262.49,812.30) rotate(-90)" font-size="18.0" font-weight="bold">p58</text>
<line x1="274.35" x2="274.35" y1="769" y2="778.3" stroke="#000" stroke-width="2.5"/>
<text transform="translate(280.79,840.92) rotate(-90)" font-size="18.0" font-weight="bold">p41 Ba</text>
<line x1="292.65" x2="292.65" y1="769" y2="778.3" stroke="#000" stroke-width="2.5"/>
<text transform="translate(299.09,840.05) rotate(-90)" font-size="18.0" font-weight="bold">p41 Bs</text>
<line x1="310.95" x2="310.95" y1="769" y2="778.3" stroke="#000" stroke-width="2.5"/>
<text transform="translate(317.39,812.17) rotate(-90)" font-size="18.0" font-weight="bold">p39</text>
<line x1="329.25" x2="329.25" y1="769" y2="778.3" stroke="#000" stroke-width="2.5"/>
<text transform="translate(335.69,829.05) rotate(-90)" font-size="18.0" font-weight="bold">OspB</text>
<line x1="347.55" x2="347.55" y1="769" y2="778.3" stroke="#000" stroke-width="2.5"/>
<text transform="translate(353.99,857.30) rotate(-90)" font-size="18.0" font-weight="bold">OspA Ba</text>
<line x1="365.85" x2="365.85" y1="769" y2="778.3" stroke="#000" stroke-width="2.5"/>
<text transform="translate(372.29,856.92) rotate(-90)" font-size="18.0" font-weight="bold">OspA Bg</text>
<line x1="384.15" x2="384.15" y1="769" y2="778.3" stroke="#000" stroke-width="2.5"/>
<text transform="translate(390.59,856.42) rotate(-90)" font-size="18.0" font-weight="bold">OspA Bs</text>
<line x1="402.45" x2="402.45" y1="769" y2="778.3" stroke="#000" stroke-width="2.5"/>
<text transform="translate(408.89,857.92) rotate(-90)" font-size="18.0" font-weight="bold">OspC Ba</text>
<line x1="420.75" x2="420.75" y1="769" y2="778.3" stroke="#000" stroke-width="2.5"/>
<text transform="translate(427.19,857.55) rotate(-90)" font-size="18.0" font-weight="bold">OspC Bg</text>
<line x1="439.05" x2="439.05" y1="769" y2="778.3" stroke="#000" stroke-width="2.5"/>
<text transform="translate(445.49,857.05) rotate(-90)" font-size="18.0" font-weight="bold">OspC Bs</text>
<line x1="457.35" x2="457.35" y1="769" y2="778.3" stroke="#000" stroke-width="2.5"/>
<text transform="translate(463.79,868.05) rotate(-90)" font-size="18.0" font-weight="bold">OspC Bsp</text>
<line x1="475.65" x2="475.65" y1="769" y2="778.3" stroke="#000" stroke-width="2.5"/>
<text transform="translate(482.09,828.30) rotate(-90)" font-size="18.0" font-weight="bold">NapA</text>
<line x1="493.95" x2="493.95" y1="769" y2="778.3" stroke="#000" stroke-width="2.5"/>
<text transform="translate(500.39,828.17) rotate(-90)" font-size="18.0" font-weight="bold">OspE</text>
<line x1="512.25" x2="512.25" y1="769" y2="778.3" stroke="#000" stroke-width="2.5"/>
<text transform="translate(518.69,812.05) rotate(-90)" font-size="18.0" font-weight="bold">p17</text>
<line x1="530.55" x2="530.55" y1="769" y2="778.3" stroke="#000" stroke-width="2.5"/>
<text transform="translate(536.99,835.30) rotate(-90)" font-size="18.0" font-weight="bold">OmpA</text>
<line x1="548.85" x2="548.85" y1="769" y2="778.3" stroke="#000" stroke-width="2.5"/>
<text transform="translate(555.29,812.67) rotate(-90)" font-size="18.0" font-weight="bold">p44</text>
<line x1="567.15" x2="567.15" y1="769" y2="778.3" stroke="#000" stroke-width="2.5"/>
<text transform="translate(573.59,835.05) rotate(-90)" font-size="18.0" font-weight="bold">Asp62</text>
<line x1="585.45" x2="585.45" y1="769" y2="778.3" stroke="#000" stroke-width="2.5"/>
<text transform="translate(591.89,854.30) rotate(-90)" font-size="18.0" font-weight="bold">EBV p18</text>
<path d="M179.60,869.4 V879.00 H518.60 V869.4" fill="none" stroke="#000" stroke-width="3.0" stroke-linejoin="miter" stroke-linecap="butt"/>
<path d="M521.40,869.4 V879.00 H575.90 V869.4" fill="none" stroke="#000" stroke-width="3.0" stroke-linejoin="miter" stroke-linecap="butt"/>
<path d="M578.10,869.4 V879.00 H592.30 V869.4" fill="none" stroke="#000" stroke-width="3.0" stroke-linejoin="miter" stroke-linecap="butt"/>
<path d="M103.8,5.5 H92.3 V777.3 H103.8" fill="none" stroke="#000" stroke-width="3.3"/>
<line x1="92.3" x2="103.8" y1="278.5" y2="278.5" stroke="#000" stroke-width="3.1"/>
<line x1="92.3" x2="103.8" y1="525.7" y2="525.7" stroke="#000" stroke-width="3.1"/>
<text transform="translate(54.61,201.98) rotate(-90)" font-size="24.17" font-weight="bold">hospitalized</text>
<text transform="translate(86.03,230.42) rotate(-90)" font-size="24.89" font-weight="bold">due to COVID-19</text>
<text transform="translate(22.48,513.63) rotate(-90)" font-size="24.31" font-weight="bold">mild/asymptomatic</text>
<text transform="translate(54.04,483.08) rotate(-90)" font-size="24.58" font-weight="bold">infection with</text>
<text transform="translate(85.41,479.21) rotate(-90)" font-size="25.41" font-weight="bold">SARS-CoV-2</text>
<text transform="translate(50.31,752.21) rotate(-90)" font-size="24.75" font-weight="bold">non-infected with</text>
<text transform="translate(81.43,778.20) rotate(-90)" font-size="24.99" font-weight="bold">SARS-CoV-2 (control)</text>
<text transform="translate(116.95,414.44) rotate(-90)" font-size="22.03" font-weight="bold">patient</text>
<text transform="translate(359.40,1070.05) rotate(-90)" font-size="22.49" font-weight="bold">Borrelia antigens</text>
<text transform="translate(552.94,1104.32) rotate(-90)" font-size="22.35" font-weight="bold">Anaplasma antigens</text>
<text transform="translate(589.97,1031.93) rotate(-90)" font-size="22.20" font-weight="bold">EBV infection</text>
<defs><linearGradient id="cb" x1="0" y1="1" x2="0" y2="0"><stop offset="0" stop-color="#fbfbff"/><stop offset="0.6" stop-color="#0000ff"/><stop offset="1" stop-color="#000070"/></linearGradient></defs>
<rect x="622.7" y="15.7" width="27.0" height="749.6" fill="url(#cb)" stroke="#000" stroke-width="2.0"/>
<text x="659.8" y="770.60" font-size="13.3">0</text>
<line x1="622.7" x2="627.4" y1="615.80" y2="615.80" stroke="#000" stroke-width="1.8"/>
<line x1="645.0" x2="649.7" y1="615.80" y2="615.80" stroke="#000" stroke-width="1.8"/>
<text x="659.8" y="620.60" font-size="13.3">100</text>
<line x1="622.7" x2="627.4" y1="465.80" y2="465.80" stroke="#000" stroke-width="1.8"/>
<line x1="645.0" x2="649.7" y1="465.80" y2="465.80" stroke="#000" stroke-width="1.8"/>
<text x="659.8" y="470.60" font-size="13.3">200</text>
<line x1="622.7" x2="627.4" y1="315.80" y2="315.80" stroke="#000" stroke-width="1.8"/>
<line x1="645.0" x2="649.7" y1="315.80" y2="315.80" stroke="#000" stroke-width="1.8"/>
<text x="659.8" y="320.60" font-size="13.3">300</text>
<line x1="622.7" x2="627.4" y1="165.80" y2="165.80" stroke="#000" stroke-width="1.8"/>
<line x1="645.0" x2="649.7" y1="165.80" y2="165.80" stroke="#000" stroke-width="1.8"/>
<text x="659.8" y="170.60" font-size="13.3">400</text>
<text x="659.8" y="20.60" font-size="13.3">500</text>
</svg>
</body></html>
